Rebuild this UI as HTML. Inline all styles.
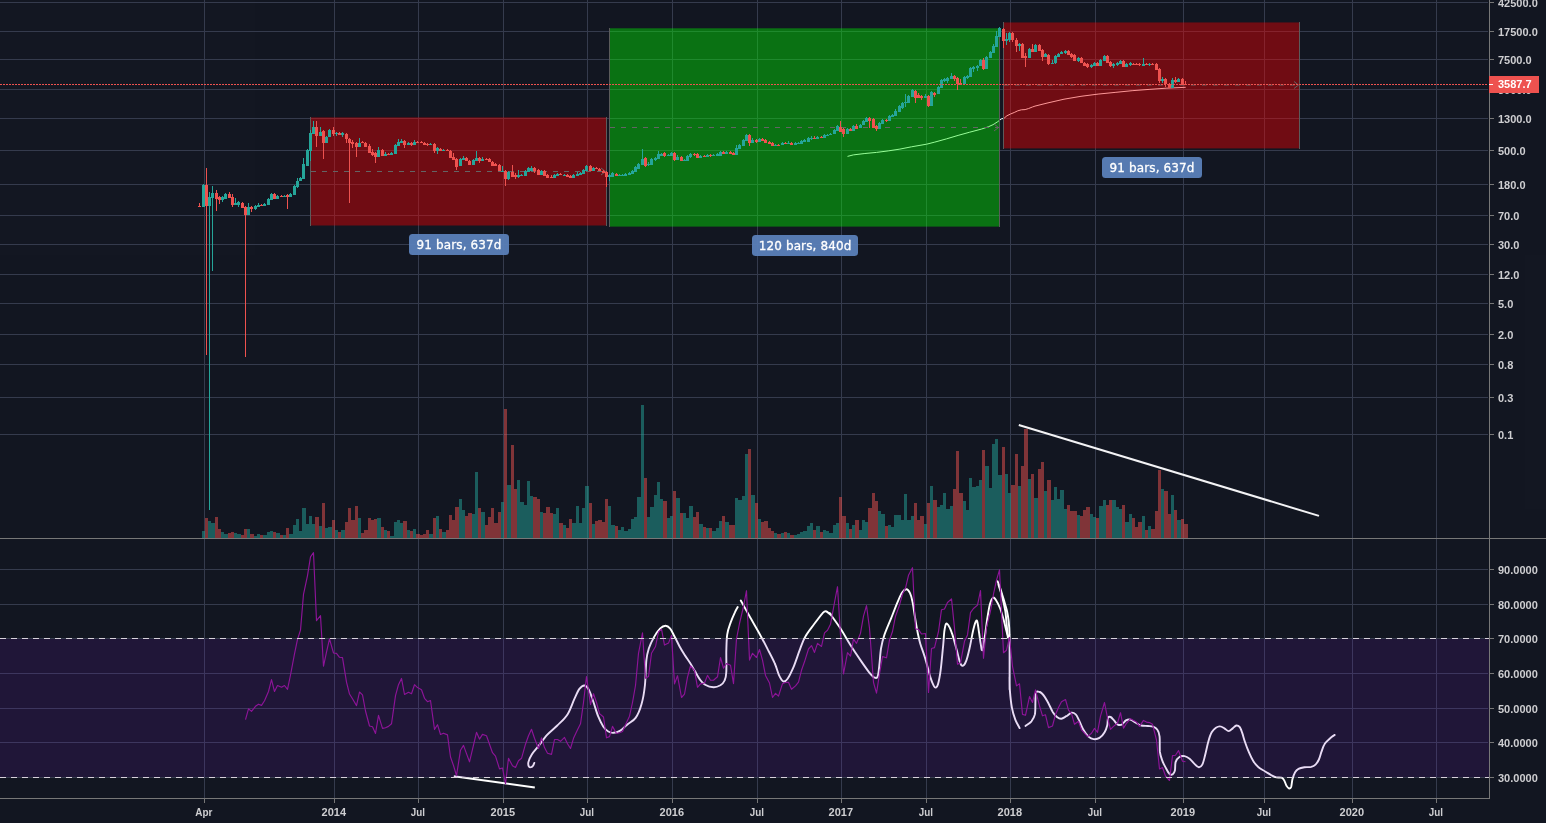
<!DOCTYPE html>
<html><head><meta charset="utf-8"><title>Chart</title>
<style>html,body{margin:0;padding:0;background:#131722;overflow:hidden}svg{display:block;will-change:transform;opacity:0.9999}</style>
</head><body>
<svg width="1546" height="823" viewBox="0 0 1546 823">
<rect x="0" y="0" width="1546" height="823" fill="#131722"/>
<g shape-rendering="crispEdges">
<rect x="204" y="0" width="1" height="538" fill="#363c4e"/>
<rect x="204" y="539" width="1" height="259" fill="#363c4e"/>
<rect x="334" y="0" width="1" height="538" fill="#363c4e"/>
<rect x="334" y="539" width="1" height="259" fill="#363c4e"/>
<rect x="418" y="0" width="1" height="538" fill="#363c4e"/>
<rect x="418" y="539" width="1" height="259" fill="#363c4e"/>
<rect x="503" y="0" width="1" height="538" fill="#363c4e"/>
<rect x="503" y="539" width="1" height="259" fill="#363c4e"/>
<rect x="587" y="0" width="1" height="538" fill="#363c4e"/>
<rect x="587" y="539" width="1" height="259" fill="#363c4e"/>
<rect x="672" y="0" width="1" height="538" fill="#363c4e"/>
<rect x="672" y="539" width="1" height="259" fill="#363c4e"/>
<rect x="757" y="0" width="1" height="538" fill="#363c4e"/>
<rect x="757" y="539" width="1" height="259" fill="#363c4e"/>
<rect x="841" y="0" width="1" height="538" fill="#363c4e"/>
<rect x="841" y="539" width="1" height="259" fill="#363c4e"/>
<rect x="926" y="0" width="1" height="538" fill="#363c4e"/>
<rect x="926" y="539" width="1" height="259" fill="#363c4e"/>
<rect x="1010" y="0" width="1" height="538" fill="#363c4e"/>
<rect x="1010" y="539" width="1" height="259" fill="#363c4e"/>
<rect x="1095" y="0" width="1" height="538" fill="#363c4e"/>
<rect x="1095" y="539" width="1" height="259" fill="#363c4e"/>
<rect x="1183" y="0" width="1" height="538" fill="#363c4e"/>
<rect x="1183" y="539" width="1" height="259" fill="#363c4e"/>
<rect x="1264" y="0" width="1" height="538" fill="#363c4e"/>
<rect x="1264" y="539" width="1" height="259" fill="#363c4e"/>
<rect x="1352" y="0" width="1" height="538" fill="#363c4e"/>
<rect x="1352" y="539" width="1" height="259" fill="#363c4e"/>
<rect x="1436" y="0" width="1" height="538" fill="#363c4e"/>
<rect x="1436" y="539" width="1" height="259" fill="#363c4e"/>
<rect x="0" y="2" width="1488" height="1" fill="#363c4e"/>
<rect x="0" y="31" width="1488" height="1" fill="#363c4e"/>
<rect x="0" y="59" width="1488" height="1" fill="#363c4e"/>
<rect x="0" y="89" width="1488" height="1" fill="#363c4e"/>
<rect x="0" y="118" width="1488" height="1" fill="#363c4e"/>
<rect x="0" y="150" width="1488" height="1" fill="#363c4e"/>
<rect x="0" y="184" width="1488" height="1" fill="#363c4e"/>
<rect x="0" y="215" width="1488" height="1" fill="#363c4e"/>
<rect x="0" y="244" width="1488" height="1" fill="#363c4e"/>
<rect x="0" y="274" width="1488" height="1" fill="#363c4e"/>
<rect x="0" y="303" width="1488" height="1" fill="#363c4e"/>
<rect x="0" y="334" width="1488" height="1" fill="#363c4e"/>
<rect x="0" y="364" width="1488" height="1" fill="#363c4e"/>
<rect x="0" y="397" width="1488" height="1" fill="#363c4e"/>
<rect x="0" y="434" width="1488" height="1" fill="#363c4e"/>
<rect x="0" y="569" width="1488" height="1" fill="#363c4e"/>
<rect x="0" y="604" width="1488" height="1" fill="#363c4e"/>
<rect x="0" y="638" width="1488" height="1" fill="#363c4e"/>
<rect x="0" y="673" width="1488" height="1" fill="#363c4e"/>
<rect x="0" y="708" width="1488" height="1" fill="#363c4e"/>
<rect x="0" y="742" width="1488" height="1" fill="#363c4e"/>
<rect x="0" y="777" width="1488" height="1" fill="#363c4e"/>
</g>
<line x1="453.8" y1="776.2" x2="534.8" y2="787.6" stroke="#ffffff" stroke-width="2"/>
<path d="M534.3,762.9 C534.0,763.5 533.5,765.7 532.6,766.3 C531.8,767.0 529.9,767.6 529.2,766.9 C528.5,766.1 528.0,764.2 528.4,762.1 C528.8,760.0 530.1,757.1 531.8,754.4 C533.5,751.7 536.0,749.2 538.6,745.9 C541.1,742.7 544.0,738.3 547.1,734.9 C550.2,731.5 553.9,728.9 557.3,725.5 C560.7,722.1 564.7,718.8 567.5,714.4 C570.3,710.1 572.3,703.4 574.3,699.1 C576.3,694.9 577.7,691.2 579.4,688.9 C581.1,686.7 583.0,685.4 584.5,685.5 C586.1,685.7 587.4,687.2 588.8,689.8 C590.2,692.3 591.5,696.4 593.0,700.8 C594.6,705.2 596.4,711.9 598.1,716.2 C599.8,720.4 601.5,723.8 603.2,726.4 C604.9,728.9 606.6,730.4 608.3,731.5 C610.1,732.5 611.5,733.0 613.5,732.8 C615.4,732.7 618.0,732.0 620.3,730.6 C622.5,729.3 624.5,726.8 627.1,724.7 C629.6,722.5 633.2,721.3 635.6,717.9 C638.0,714.4 640.0,709.6 641.5,704.2 C643.1,698.9 644.1,692.9 644.9,685.5 C645.7,678.2 645.7,666.3 646.4,660.1 C647.0,653.9 647.7,652.0 648.9,648.2 C650.2,644.3 652.2,640.4 654.0,637.1 C655.9,633.8 658.1,630.5 660.0,628.6 C661.9,626.7 663.9,625.7 665.6,625.7 C667.3,625.7 668.7,626.8 670.2,628.6 C671.7,630.4 672.9,633.3 674.4,636.3 C676.0,639.2 677.9,643.3 679.6,646.5 C681.3,649.6 683.0,652.3 684.7,655.0 C686.4,657.7 688.1,659.9 689.8,662.6 C691.5,665.3 693.2,668.3 694.9,671.1 C696.6,674.0 698.3,677.4 700.0,679.6 C701.7,681.9 702.8,683.5 705.1,684.7 C707.3,686.0 711.0,687.2 713.6,687.3 C716.1,687.4 718.5,686.4 720.4,685.3 C722.2,684.1 723.7,682.7 724.6,680.5 C725.6,678.3 726.1,676.8 726.3,672.0 C726.6,667.2 726.2,657.8 726.3,651.6 C726.5,645.3 726.5,639.4 727.2,634.6 C727.9,629.7 729.3,626.3 730.6,622.6 C731.9,619.0 733.7,615.0 734.9,612.4 C736.0,609.8 737.3,607.9 737.7,607.0" fill="none" stroke="#ffffff" stroke-width="1.9" stroke-linecap="round" stroke-linejoin="round"/>
<path d="M740.8,600.5 C742.2,603.1 746.2,610.3 749.3,615.8 C752.4,621.4 756.4,628.0 759.5,633.7 C762.6,639.4 765.5,644.9 768.0,649.9 C770.6,654.8 773.0,659.2 774.8,663.5 C776.7,667.7 777.7,672.4 779.1,675.4 C780.5,678.4 781.9,680.8 783.3,681.3 C784.8,681.9 785.9,681.2 787.6,678.8 C789.3,676.4 791.4,672.0 793.6,666.9 C795.7,661.8 798.4,653.3 800.4,648.2 C802.3,643.1 803.2,640.2 805.5,636.3 C807.7,632.3 811.1,628.2 814.0,624.3 C816.8,620.5 820.5,615.5 822.5,613.3 C824.5,611.1 824.5,611.0 825.9,611.2 C827.3,611.5 830.3,614.6 831.0,615.0 C831.7,615.4 828.5,611.4 830.0,613.6 C831.5,615.8 836.8,622.8 840.2,628.1 C843.6,633.3 847.0,639.7 850.4,645.1 C853.8,650.5 857.5,655.9 860.6,660.4 C863.7,664.9 866.9,669.5 869.1,672.3 C871.4,675.1 872.8,676.7 874.2,677.4 C875.7,678.1 876.8,678.5 877.6,676.6 C878.5,674.6 878.8,670.2 879.3,665.5 C879.9,660.8 880.2,653.6 881.0,648.5 C881.9,643.4 882.7,640.0 884.4,634.9 C886.2,629.8 889.0,623.5 891.3,617.9 C893.5,612.2 896.2,605.1 898.1,600.8 C899.9,596.6 900.9,594.3 902.3,592.3 C903.7,590.4 905.3,589.1 906.6,589.3 C907.8,589.4 909.0,591.1 910.0,593.2 C911.0,595.3 911.7,597.6 912.5,601.7 C913.4,605.8 914.2,612.7 915.1,617.9 C915.9,623.0 916.8,628.1 917.6,632.3 C918.5,636.6 918.9,639.0 920.2,643.4 C921.5,647.8 923.6,653.0 925.3,658.7 C927.0,664.4 929.0,672.9 930.4,677.4 C931.8,681.9 932.9,684.2 933.8,685.9 C934.7,687.6 935.1,687.9 935.8,687.6 C936.5,687.3 937.3,687.0 938.0,684.2 C938.8,681.4 939.7,677.1 940.6,670.6 C941.5,664.1 942.5,651.6 943.2,645.1 C943.8,638.6 943.9,635.0 944.3,631.5 C944.8,627.9 945.3,624.7 946.0,623.8 C946.8,623.0 948.0,624.5 949.1,626.4 C950.2,628.2 951.2,630.9 952.5,634.9 C953.8,638.8 955.5,645.5 956.8,650.2 C958.0,654.9 959.2,660.3 960.2,662.9 C961.2,665.6 961.7,666.1 962.7,665.8 C963.7,665.6 965.0,664.1 966.1,661.2 C967.3,658.3 968.4,653.4 969.5,648.5 C970.7,643.5 971.9,635.9 972.9,631.5 C973.9,627.1 974.8,623.8 975.5,622.1 C976.2,620.4 976.6,619.7 977.2,621.3 C977.8,622.8 978.3,627.8 978.9,631.5 C979.5,635.2 980.0,640.3 980.6,643.4 C981.2,646.5 981.6,651.3 982.3,650.2 C983.0,649.0 984.0,642.0 984.8,636.6 C985.7,631.2 986.5,623.2 987.4,617.9 C988.2,612.5 989.0,607.6 989.9,604.2 C990.9,600.9 992.0,598.5 993.0,597.8 C994.0,597.1 994.7,598.2 995.9,600.0 C997.1,601.8 998.9,605.2 1000.2,608.5 C1001.4,611.8 1002.4,615.4 1003.6,619.6 C1004.7,623.7 1006.1,630.3 1007.0,633.2 C1007.8,636.0 1008.4,636.0 1008.7,636.6" fill="none" stroke="#ffffff" stroke-width="1.9" stroke-linecap="round" stroke-linejoin="round"/>
<path d="M997.6,581.3 C998.0,582.4 999.2,585.1 1000.2,588.1 C1001.1,591.1 1002.4,595.3 1003.6,599.1 C1004.7,603.0 1006.1,607.4 1007.0,611.0 C1007.8,614.7 1008.2,617.3 1008.7,621.3 C1009.1,625.2 1009.4,630.3 1009.5,634.9 C1009.7,639.4 1009.6,642.8 1009.6,648.5 C1009.6,654.2 1009.6,662.1 1009.6,668.9 C1009.6,675.7 1009.6,688.0 1009.6,689.3 C1009.6,690.7 1009.5,676.8 1009.5,677.0 C1009.6,677.2 1009.5,685.5 1009.9,690.6 C1010.3,695.7 1011.0,702.8 1011.9,707.6 C1012.8,712.5 1014.0,716.2 1015.3,719.6 C1016.6,723.0 1018.9,726.6 1019.6,728.1" fill="none" stroke="#ffffff" stroke-width="1.9" stroke-linecap="round" stroke-linejoin="round"/>
<path d="M998.5,584.7 C999.0,586.5 1000.7,591.3 1001.9,595.7 C1003.0,600.1 1004.4,605.7 1005.3,611.0 C1006.1,616.4 1006.5,623.7 1007.0,628.1 C1007.4,632.5 1007.7,635.9 1007.8,637.4" fill="none" stroke="#ffffff" stroke-width="1.9" stroke-linecap="round" stroke-linejoin="round"/>
<path d="M1025.5,726.0 C1026.5,725.2 1029.9,723.2 1031.5,721.3 C1033.0,719.3 1034.2,717.6 1034.9,714.4 C1035.5,711.3 1035.3,706.1 1035.4,702.5 C1035.5,699.0 1035.3,695.0 1035.7,693.2 C1036.2,691.3 1037.2,691.3 1038.3,691.5 C1039.4,691.6 1041.0,692.3 1042.5,694.0 C1044.1,695.7 1045.9,698.7 1047.6,701.7 C1049.3,704.7 1051.2,709.3 1052.7,711.9 C1054.3,714.4 1055.6,715.9 1057.0,717.0 C1058.4,718.1 1059.7,718.8 1061.3,718.7 C1062.8,718.6 1064.7,717.1 1066.4,716.2 C1068.1,715.2 1069.9,713.0 1071.5,712.7 C1073.0,712.5 1074.4,713.2 1075.7,714.4 C1077.0,715.7 1077.8,717.9 1079.1,720.4 C1080.4,723.0 1081.8,727.1 1083.4,729.8 C1084.9,732.5 1086.8,735.0 1088.5,736.6 C1090.2,738.1 1091.7,738.9 1093.6,739.1 C1095.4,739.3 1097.7,739.1 1099.5,737.9 C1101.4,736.8 1103.4,734.4 1104.6,732.3 C1105.9,730.2 1106.6,727.9 1107.2,725.5 C1107.8,723.1 1107.5,719.3 1108.0,717.9 C1108.6,716.4 1109.6,716.6 1110.6,717.0 C1111.6,717.4 1112.9,719.2 1114.0,720.4 C1115.1,721.6 1116.1,723.6 1117.4,724.3 C1118.7,725.0 1120.2,725.3 1121.7,724.7 C1123.1,724.0 1124.5,721.3 1125.9,720.4 C1127.3,719.6 1128.5,719.1 1130.2,719.6 C1131.9,720.0 1134.3,722.0 1136.1,723.0 C1138.0,723.9 1139.2,725.0 1141.2,725.5 C1143.2,726.0 1146.0,725.8 1148.0,726.0 C1150.0,726.2 1151.6,726.1 1153.1,726.7 C1154.7,727.3 1156.3,728.1 1157.4,729.8 C1158.5,731.4 1159.2,732.9 1159.6,736.6 C1160.0,740.3 1159.5,747.8 1159.9,751.9 C1160.4,756.0 1161.5,758.5 1162.5,761.2 C1163.5,763.9 1164.8,766.0 1165.9,768.0 C1167.0,770.1 1168.2,772.6 1169.3,773.7 C1170.4,774.7 1171.8,774.9 1172.7,774.3 C1173.6,773.8 1174.4,772.6 1174.9,770.6 C1175.4,768.6 1174.9,764.4 1175.6,762.1 C1176.3,759.8 1177.9,758.0 1179.4,757.0 C1180.8,756.0 1182.8,755.9 1184.5,756.1 C1186.2,756.4 1187.9,757.4 1189.6,758.7 C1191.3,760.0 1193.1,762.7 1194.7,764.1 C1196.2,765.6 1197.7,767.1 1198.9,767.2 C1200.2,767.3 1201.3,766.5 1202.3,764.6 C1203.3,762.8 1203.9,760.0 1204.9,756.1 C1205.9,752.3 1207.2,745.6 1208.3,741.7 C1209.4,737.7 1210.4,734.6 1211.7,732.3 C1213.0,730.0 1214.5,728.7 1215.9,727.7 C1217.4,726.7 1218.8,726.2 1220.2,726.4 C1221.6,726.5 1223.0,727.6 1224.4,728.4 C1225.9,729.2 1227.3,731.2 1228.7,731.1 C1230.1,731.1 1231.7,729.0 1233.0,728.1 C1234.2,727.1 1235.2,725.7 1236.4,725.5 C1237.5,725.4 1238.8,725.9 1239.8,727.2 C1240.8,728.5 1241.5,730.8 1242.3,733.2 C1243.2,735.6 1243.7,738.4 1244.9,741.7 C1246.0,744.9 1247.7,749.5 1249.1,752.7 C1250.5,756.0 1251.8,758.8 1253.4,761.2 C1254.9,763.7 1256.5,765.5 1258.5,767.2 C1260.5,768.9 1263.0,770.0 1265.3,771.5 C1267.6,772.9 1270.2,774.7 1272.1,775.7 C1273.9,776.7 1274.8,777.1 1276.3,777.4 C1277.9,777.7 1280.2,777.3 1281.5,777.7 C1282.7,778.2 1283.2,778.6 1284.0,780.0 C1284.9,781.3 1285.7,784.5 1286.6,785.9 C1287.4,787.3 1288.3,788.3 1289.1,788.5 C1289.9,788.6 1290.6,788.3 1291.2,786.8 C1291.7,785.2 1291.9,781.5 1292.5,779.1 C1293.2,776.7 1294.1,774.0 1295.1,772.3 C1296.1,770.6 1296.9,769.7 1298.5,768.9 C1300.0,768.0 1302.3,767.5 1304.4,767.2 C1306.5,766.9 1309.4,767.3 1311.2,766.9 C1313.1,766.4 1314.2,765.9 1315.5,764.6 C1316.8,763.4 1317.9,761.7 1318.9,759.5 C1319.9,757.4 1320.6,754.3 1321.4,751.9 C1322.3,749.5 1323.0,746.9 1324.0,745.1 C1325.0,743.2 1326.1,742.2 1327.4,740.8 C1328.7,739.5 1330.4,737.9 1331.6,736.9 C1332.9,735.9 1334.2,735.2 1334.7,734.9" fill="none" stroke="#ffffff" stroke-width="1.9" stroke-linecap="round" stroke-linejoin="round"/>
<rect x="0" y="639" width="1489" height="138" fill="#701ec2" fill-opacity="0.15" shape-rendering="crispEdges"/>
<polyline points="847.5,156.4 853.3,154.9 864.9,153.5 876.6,152.4 888.2,150.9 899.9,149.1 911.5,146.8 926.6,144.2 934.8,142.1 946.4,138.9 958.1,135.4 969.7,132.2 981.4,129.1 988.3,126.8 993.0,124.7 997.7,121.7 999.5,120.3 1001.4,118.9 1004.0,118.3 1006.9,115.8 1010.5,114.0 1014.2,112.5 1017.8,110.8 1021.4,109.8 1025.1,109.6 1028.7,108.5 1032.4,107.0 1035.0,106.1 1047.0,103.1 1064.0,99.2 1081.0,96.3 1098.1,94.1 1115.1,92.4 1132.1,90.7 1149.1,89.4 1166.1,88.2 1185.7,87.3" fill="none" stroke="#ffffff" stroke-width="1"/>
<rect x="311" y="117.4" width="295" height="108.1" fill="#ff0000" fill-opacity="0.4"/>
<rect x="610" y="28.3" width="389" height="198.3" fill="#00ff00" fill-opacity="0.4"/>
<rect x="1004" y="22.45" width="295" height="125.95" fill="#ff0000" fill-opacity="0.4"/>
<g shape-rendering="crispEdges">
<rect x="310" y="117" width="1" height="109" fill="#5c5c5c"/>
<rect x="606" y="117" width="1" height="109" fill="#5c5c5c"/>
<rect x="609" y="28" width="1" height="199" fill="#5c5c5c"/>
<rect x="999" y="28" width="1" height="199" fill="#5c5c5c"/>
<rect x="1003" y="22" width="1" height="127" fill="#5c5c5c"/>
<rect x="1299" y="22" width="1" height="127" fill="#5c5c5c"/>
</g>
<line x1="311" y1="171.5" x2="606" y2="171.5" stroke="#656565" stroke-width="1" stroke-dasharray="4.7,6.3" shape-rendering="crispEdges"/>
<path d="M601,168.0 L605.5,171.5 L601,175.0" fill="none" stroke="#656565" stroke-width="1"/>
<line x1="610" y1="127.5" x2="999" y2="127.5" stroke="#656565" stroke-width="1" stroke-dasharray="4.7,6.3" shape-rendering="crispEdges"/>
<path d="M994,124.0 L998.5,127.5 L994,131.0" fill="none" stroke="#656565" stroke-width="1"/>
<line x1="1004" y1="85.0" x2="1299" y2="85.0" stroke="#656565" stroke-width="1" stroke-dasharray="4.7,6.3"/>
<path d="M1294,81.5 L1298.5,85.0 L1294,88.5" fill="none" stroke="#656565" stroke-width="1"/>
<g shape-rendering="crispEdges">
<rect x="202" y="531" width="3" height="7" fill="#26a69a" fill-opacity="0.5"/>
<rect x="205" y="518" width="3" height="20" fill="#ef5350" fill-opacity="0.5"/>
<rect x="208" y="521" width="3" height="17" fill="#26a69a" fill-opacity="0.5"/>
<rect x="211" y="523" width="4" height="15" fill="#26a69a" fill-opacity="0.5"/>
<rect x="215" y="517" width="3" height="21" fill="#ef5350" fill-opacity="0.5"/>
<rect x="218" y="529" width="3" height="9" fill="#ef5350" fill-opacity="0.5"/>
<rect x="221" y="532" width="3" height="6" fill="#26a69a" fill-opacity="0.5"/>
<rect x="224" y="534" width="4" height="4" fill="#26a69a" fill-opacity="0.5"/>
<rect x="228" y="533" width="3" height="5" fill="#ef5350" fill-opacity="0.5"/>
<rect x="231" y="532" width="3" height="6" fill="#ef5350" fill-opacity="0.5"/>
<rect x="234" y="533" width="3" height="5" fill="#26a69a" fill-opacity="0.5"/>
<rect x="237" y="534" width="4" height="4" fill="#26a69a" fill-opacity="0.5"/>
<rect x="241" y="535" width="3" height="3" fill="#ef5350" fill-opacity="0.5"/>
<rect x="244" y="529" width="3" height="9" fill="#ef5350" fill-opacity="0.5"/>
<rect x="247" y="529" width="3" height="9" fill="#26a69a" fill-opacity="0.5"/>
<rect x="250" y="534" width="4" height="4" fill="#ef5350" fill-opacity="0.5"/>
<rect x="254" y="536" width="3" height="2" fill="#26a69a" fill-opacity="0.5"/>
<rect x="257" y="534" width="3" height="4" fill="#26a69a" fill-opacity="0.5"/>
<rect x="260" y="535" width="3" height="3" fill="#ef5350" fill-opacity="0.5"/>
<rect x="263" y="535" width="4" height="3" fill="#26a69a" fill-opacity="0.5"/>
<rect x="267" y="532" width="3" height="6" fill="#26a69a" fill-opacity="0.5"/>
<rect x="270" y="531" width="3" height="7" fill="#26a69a" fill-opacity="0.5"/>
<rect x="273" y="532" width="3" height="6" fill="#ef5350" fill-opacity="0.5"/>
<rect x="276" y="533" width="4" height="5" fill="#26a69a" fill-opacity="0.5"/>
<rect x="280" y="535" width="3" height="3" fill="#ef5350" fill-opacity="0.5"/>
<rect x="283" y="535" width="3" height="3" fill="#26a69a" fill-opacity="0.5"/>
<rect x="286" y="528" width="3" height="10" fill="#ef5350" fill-opacity="0.5"/>
<rect x="289" y="534" width="4" height="4" fill="#26a69a" fill-opacity="0.5"/>
<rect x="293" y="525" width="3" height="13" fill="#26a69a" fill-opacity="0.5"/>
<rect x="296" y="519" width="3" height="19" fill="#26a69a" fill-opacity="0.5"/>
<rect x="299" y="531" width="3" height="7" fill="#26a69a" fill-opacity="0.5"/>
<rect x="302" y="508" width="4" height="30" fill="#26a69a" fill-opacity="0.5"/>
<rect x="306" y="524" width="3" height="14" fill="#26a69a" fill-opacity="0.5"/>
<rect x="309" y="516" width="3" height="22" fill="#26a69a" fill-opacity="0.5"/>
<rect x="312" y="524" width="3" height="14" fill="#26a69a" fill-opacity="0.5"/>
<rect x="315" y="517" width="4" height="21" fill="#ef5350" fill-opacity="0.5"/>
<rect x="319" y="526" width="3" height="12" fill="#26a69a" fill-opacity="0.5"/>
<rect x="322" y="503" width="3" height="35" fill="#ef5350" fill-opacity="0.5"/>
<rect x="325" y="528" width="3" height="10" fill="#26a69a" fill-opacity="0.5"/>
<rect x="328" y="527" width="4" height="11" fill="#26a69a" fill-opacity="0.5"/>
<rect x="332" y="520" width="3" height="18" fill="#ef5350" fill-opacity="0.5"/>
<rect x="335" y="530" width="3" height="8" fill="#26a69a" fill-opacity="0.5"/>
<rect x="338" y="532" width="3" height="6" fill="#ef5350" fill-opacity="0.5"/>
<rect x="341" y="530" width="4" height="8" fill="#26a69a" fill-opacity="0.5"/>
<rect x="345" y="522" width="3" height="16" fill="#ef5350" fill-opacity="0.5"/>
<rect x="348" y="508" width="3" height="30" fill="#ef5350" fill-opacity="0.5"/>
<rect x="351" y="520" width="4" height="18" fill="#ef5350" fill-opacity="0.5"/>
<rect x="355" y="506" width="3" height="32" fill="#ef5350" fill-opacity="0.5"/>
<rect x="358" y="518" width="3" height="20" fill="#26a69a" fill-opacity="0.5"/>
<rect x="361" y="533" width="3" height="5" fill="#ef5350" fill-opacity="0.5"/>
<rect x="364" y="530" width="4" height="8" fill="#ef5350" fill-opacity="0.5"/>
<rect x="368" y="518" width="3" height="20" fill="#ef5350" fill-opacity="0.5"/>
<rect x="371" y="520" width="3" height="18" fill="#ef5350" fill-opacity="0.5"/>
<rect x="374" y="519" width="3" height="19" fill="#ef5350" fill-opacity="0.5"/>
<rect x="377" y="518" width="4" height="20" fill="#26a69a" fill-opacity="0.5"/>
<rect x="381" y="527" width="3" height="11" fill="#ef5350" fill-opacity="0.5"/>
<rect x="384" y="530" width="3" height="8" fill="#26a69a" fill-opacity="0.5"/>
<rect x="387" y="531" width="3" height="7" fill="#ef5350" fill-opacity="0.5"/>
<rect x="390" y="536" width="4" height="2" fill="#26a69a" fill-opacity="0.5"/>
<rect x="394" y="522" width="3" height="16" fill="#26a69a" fill-opacity="0.5"/>
<rect x="397" y="520" width="3" height="18" fill="#26a69a" fill-opacity="0.5"/>
<rect x="400" y="523" width="3" height="15" fill="#26a69a" fill-opacity="0.5"/>
<rect x="403" y="521" width="4" height="17" fill="#ef5350" fill-opacity="0.5"/>
<rect x="407" y="530" width="3" height="8" fill="#26a69a" fill-opacity="0.5"/>
<rect x="410" y="531" width="3" height="7" fill="#ef5350" fill-opacity="0.5"/>
<rect x="413" y="529" width="3" height="9" fill="#26a69a" fill-opacity="0.5"/>
<rect x="416" y="534" width="4" height="4" fill="#ef5350" fill-opacity="0.5"/>
<rect x="420" y="535" width="3" height="3" fill="#ef5350" fill-opacity="0.5"/>
<rect x="423" y="534" width="3" height="4" fill="#ef5350" fill-opacity="0.5"/>
<rect x="426" y="530" width="3" height="8" fill="#ef5350" fill-opacity="0.5"/>
<rect x="429" y="534" width="4" height="4" fill="#26a69a" fill-opacity="0.5"/>
<rect x="433" y="518" width="3" height="20" fill="#ef5350" fill-opacity="0.5"/>
<rect x="436" y="516" width="3" height="22" fill="#26a69a" fill-opacity="0.5"/>
<rect x="439" y="529" width="3" height="9" fill="#ef5350" fill-opacity="0.5"/>
<rect x="442" y="532" width="4" height="6" fill="#26a69a" fill-opacity="0.5"/>
<rect x="446" y="530" width="3" height="8" fill="#ef5350" fill-opacity="0.5"/>
<rect x="449" y="515" width="3" height="23" fill="#ef5350" fill-opacity="0.5"/>
<rect x="452" y="520" width="3" height="18" fill="#ef5350" fill-opacity="0.5"/>
<rect x="455" y="507" width="4" height="31" fill="#ef5350" fill-opacity="0.5"/>
<rect x="459" y="499" width="3" height="39" fill="#26a69a" fill-opacity="0.5"/>
<rect x="462" y="510" width="3" height="28" fill="#26a69a" fill-opacity="0.5"/>
<rect x="465" y="516" width="3" height="22" fill="#ef5350" fill-opacity="0.5"/>
<rect x="468" y="513" width="4" height="25" fill="#ef5350" fill-opacity="0.5"/>
<rect x="472" y="514" width="3" height="24" fill="#26a69a" fill-opacity="0.5"/>
<rect x="475" y="472" width="3" height="66" fill="#26a69a" fill-opacity="0.5"/>
<rect x="478" y="508" width="3" height="30" fill="#ef5350" fill-opacity="0.5"/>
<rect x="481" y="512" width="4" height="26" fill="#26a69a" fill-opacity="0.5"/>
<rect x="485" y="525" width="3" height="13" fill="#ef5350" fill-opacity="0.5"/>
<rect x="488" y="517" width="3" height="21" fill="#ef5350" fill-opacity="0.5"/>
<rect x="491" y="508" width="3" height="30" fill="#ef5350" fill-opacity="0.5"/>
<rect x="494" y="523" width="4" height="15" fill="#ef5350" fill-opacity="0.5"/>
<rect x="498" y="512" width="3" height="26" fill="#ef5350" fill-opacity="0.5"/>
<rect x="501" y="502" width="3" height="36" fill="#26a69a" fill-opacity="0.5"/>
<rect x="504" y="409" width="3" height="129" fill="#ef5350" fill-opacity="0.5"/>
<rect x="507" y="485" width="4" height="53" fill="#26a69a" fill-opacity="0.5"/>
<rect x="511" y="445" width="3" height="93" fill="#ef5350" fill-opacity="0.5"/>
<rect x="514" y="489" width="3" height="49" fill="#ef5350" fill-opacity="0.5"/>
<rect x="517" y="480" width="3" height="58" fill="#26a69a" fill-opacity="0.5"/>
<rect x="520" y="502" width="4" height="36" fill="#26a69a" fill-opacity="0.5"/>
<rect x="524" y="505" width="3" height="33" fill="#26a69a" fill-opacity="0.5"/>
<rect x="527" y="481" width="3" height="57" fill="#26a69a" fill-opacity="0.5"/>
<rect x="530" y="496" width="3" height="42" fill="#26a69a" fill-opacity="0.5"/>
<rect x="533" y="497" width="4" height="41" fill="#ef5350" fill-opacity="0.5"/>
<rect x="537" y="499" width="3" height="39" fill="#ef5350" fill-opacity="0.5"/>
<rect x="540" y="512" width="3" height="26" fill="#26a69a" fill-opacity="0.5"/>
<rect x="543" y="513" width="3" height="25" fill="#ef5350" fill-opacity="0.5"/>
<rect x="546" y="507" width="4" height="31" fill="#ef5350" fill-opacity="0.5"/>
<rect x="550" y="513" width="3" height="25" fill="#ef5350" fill-opacity="0.5"/>
<rect x="553" y="514" width="3" height="24" fill="#26a69a" fill-opacity="0.5"/>
<rect x="556" y="508" width="3" height="30" fill="#26a69a" fill-opacity="0.5"/>
<rect x="559" y="523" width="4" height="15" fill="#ef5350" fill-opacity="0.5"/>
<rect x="563" y="525" width="3" height="13" fill="#26a69a" fill-opacity="0.5"/>
<rect x="566" y="528" width="3" height="10" fill="#ef5350" fill-opacity="0.5"/>
<rect x="569" y="519" width="3" height="19" fill="#ef5350" fill-opacity="0.5"/>
<rect x="572" y="523" width="4" height="15" fill="#26a69a" fill-opacity="0.5"/>
<rect x="576" y="506" width="3" height="32" fill="#26a69a" fill-opacity="0.5"/>
<rect x="579" y="523" width="3" height="15" fill="#26a69a" fill-opacity="0.5"/>
<rect x="582" y="508" width="3" height="30" fill="#26a69a" fill-opacity="0.5"/>
<rect x="585" y="486" width="4" height="52" fill="#26a69a" fill-opacity="0.5"/>
<rect x="589" y="503" width="3" height="35" fill="#ef5350" fill-opacity="0.5"/>
<rect x="592" y="524" width="3" height="14" fill="#26a69a" fill-opacity="0.5"/>
<rect x="595" y="521" width="3" height="17" fill="#ef5350" fill-opacity="0.5"/>
<rect x="598" y="520" width="4" height="18" fill="#ef5350" fill-opacity="0.5"/>
<rect x="602" y="522" width="3" height="16" fill="#ef5350" fill-opacity="0.5"/>
<rect x="605" y="499" width="3" height="39" fill="#ef5350" fill-opacity="0.5"/>
<rect x="608" y="506" width="3" height="32" fill="#26a69a" fill-opacity="0.5"/>
<rect x="611" y="525" width="4" height="13" fill="#26a69a" fill-opacity="0.5"/>
<rect x="615" y="526" width="3" height="12" fill="#ef5350" fill-opacity="0.5"/>
<rect x="618" y="530" width="3" height="8" fill="#26a69a" fill-opacity="0.5"/>
<rect x="621" y="527" width="3" height="11" fill="#26a69a" fill-opacity="0.5"/>
<rect x="624" y="531" width="4" height="7" fill="#26a69a" fill-opacity="0.5"/>
<rect x="628" y="529" width="3" height="9" fill="#26a69a" fill-opacity="0.5"/>
<rect x="631" y="519" width="3" height="19" fill="#26a69a" fill-opacity="0.5"/>
<rect x="634" y="517" width="3" height="21" fill="#26a69a" fill-opacity="0.5"/>
<rect x="637" y="497" width="4" height="41" fill="#26a69a" fill-opacity="0.5"/>
<rect x="641" y="405" width="3" height="133" fill="#26a69a" fill-opacity="0.5"/>
<rect x="644" y="478" width="3" height="60" fill="#ef5350" fill-opacity="0.5"/>
<rect x="647" y="517" width="3" height="21" fill="#26a69a" fill-opacity="0.5"/>
<rect x="650" y="507" width="4" height="31" fill="#26a69a" fill-opacity="0.5"/>
<rect x="654" y="495" width="3" height="43" fill="#26a69a" fill-opacity="0.5"/>
<rect x="657" y="482" width="3" height="56" fill="#26a69a" fill-opacity="0.5"/>
<rect x="660" y="499" width="3" height="39" fill="#26a69a" fill-opacity="0.5"/>
<rect x="663" y="501" width="4" height="37" fill="#ef5350" fill-opacity="0.5"/>
<rect x="667" y="518" width="3" height="20" fill="#26a69a" fill-opacity="0.5"/>
<rect x="670" y="516" width="3" height="22" fill="#26a69a" fill-opacity="0.5"/>
<rect x="673" y="491" width="3" height="47" fill="#ef5350" fill-opacity="0.5"/>
<rect x="676" y="498" width="4" height="40" fill="#26a69a" fill-opacity="0.5"/>
<rect x="680" y="513" width="3" height="25" fill="#ef5350" fill-opacity="0.5"/>
<rect x="683" y="513" width="3" height="25" fill="#26a69a" fill-opacity="0.5"/>
<rect x="686" y="518" width="3" height="20" fill="#26a69a" fill-opacity="0.5"/>
<rect x="689" y="506" width="4" height="32" fill="#26a69a" fill-opacity="0.5"/>
<rect x="693" y="517" width="3" height="21" fill="#ef5350" fill-opacity="0.5"/>
<rect x="696" y="512" width="3" height="26" fill="#ef5350" fill-opacity="0.5"/>
<rect x="699" y="524" width="4" height="14" fill="#26a69a" fill-opacity="0.5"/>
<rect x="703" y="527" width="3" height="11" fill="#ef5350" fill-opacity="0.5"/>
<rect x="706" y="528" width="3" height="10" fill="#26a69a" fill-opacity="0.5"/>
<rect x="709" y="528" width="3" height="10" fill="#ef5350" fill-opacity="0.5"/>
<rect x="712" y="531" width="4" height="7" fill="#26a69a" fill-opacity="0.5"/>
<rect x="716" y="528" width="3" height="10" fill="#26a69a" fill-opacity="0.5"/>
<rect x="719" y="521" width="3" height="17" fill="#26a69a" fill-opacity="0.5"/>
<rect x="722" y="516" width="3" height="22" fill="#ef5350" fill-opacity="0.5"/>
<rect x="725" y="522" width="4" height="16" fill="#26a69a" fill-opacity="0.5"/>
<rect x="729" y="525" width="3" height="13" fill="#ef5350" fill-opacity="0.5"/>
<rect x="732" y="525" width="3" height="13" fill="#ef5350" fill-opacity="0.5"/>
<rect x="735" y="498" width="3" height="40" fill="#26a69a" fill-opacity="0.5"/>
<rect x="738" y="500" width="4" height="38" fill="#26a69a" fill-opacity="0.5"/>
<rect x="742" y="496" width="3" height="42" fill="#26a69a" fill-opacity="0.5"/>
<rect x="745" y="454" width="3" height="84" fill="#26a69a" fill-opacity="0.5"/>
<rect x="748" y="449" width="3" height="89" fill="#ef5350" fill-opacity="0.5"/>
<rect x="751" y="495" width="4" height="43" fill="#26a69a" fill-opacity="0.5"/>
<rect x="755" y="503" width="3" height="35" fill="#ef5350" fill-opacity="0.5"/>
<rect x="758" y="519" width="3" height="19" fill="#26a69a" fill-opacity="0.5"/>
<rect x="761" y="522" width="3" height="16" fill="#ef5350" fill-opacity="0.5"/>
<rect x="764" y="521" width="4" height="17" fill="#ef5350" fill-opacity="0.5"/>
<rect x="768" y="528" width="3" height="10" fill="#ef5350" fill-opacity="0.5"/>
<rect x="771" y="531" width="3" height="7" fill="#ef5350" fill-opacity="0.5"/>
<rect x="774" y="533" width="3" height="5" fill="#26a69a" fill-opacity="0.5"/>
<rect x="777" y="534" width="4" height="4" fill="#ef5350" fill-opacity="0.5"/>
<rect x="781" y="533" width="3" height="5" fill="#26a69a" fill-opacity="0.5"/>
<rect x="784" y="532" width="3" height="6" fill="#ef5350" fill-opacity="0.5"/>
<rect x="787" y="533" width="3" height="5" fill="#26a69a" fill-opacity="0.5"/>
<rect x="790" y="535" width="4" height="3" fill="#ef5350" fill-opacity="0.5"/>
<rect x="794" y="535" width="3" height="3" fill="#26a69a" fill-opacity="0.5"/>
<rect x="797" y="534" width="3" height="4" fill="#26a69a" fill-opacity="0.5"/>
<rect x="800" y="532" width="3" height="6" fill="#26a69a" fill-opacity="0.5"/>
<rect x="803" y="531" width="4" height="7" fill="#26a69a" fill-opacity="0.5"/>
<rect x="807" y="526" width="3" height="12" fill="#26a69a" fill-opacity="0.5"/>
<rect x="810" y="523" width="3" height="15" fill="#26a69a" fill-opacity="0.5"/>
<rect x="813" y="530" width="3" height="8" fill="#ef5350" fill-opacity="0.5"/>
<rect x="816" y="526" width="4" height="12" fill="#26a69a" fill-opacity="0.5"/>
<rect x="820" y="532" width="3" height="6" fill="#ef5350" fill-opacity="0.5"/>
<rect x="823" y="530" width="3" height="8" fill="#26a69a" fill-opacity="0.5"/>
<rect x="826" y="531" width="3" height="7" fill="#26a69a" fill-opacity="0.5"/>
<rect x="829" y="533" width="4" height="5" fill="#26a69a" fill-opacity="0.5"/>
<rect x="833" y="525" width="3" height="13" fill="#26a69a" fill-opacity="0.5"/>
<rect x="836" y="523" width="3" height="15" fill="#26a69a" fill-opacity="0.5"/>
<rect x="839" y="497" width="3" height="41" fill="#ef5350" fill-opacity="0.5"/>
<rect x="842" y="516" width="4" height="22" fill="#ef5350" fill-opacity="0.5"/>
<rect x="846" y="523" width="3" height="15" fill="#26a69a" fill-opacity="0.5"/>
<rect x="849" y="529" width="3" height="9" fill="#ef5350" fill-opacity="0.5"/>
<rect x="852" y="525" width="3" height="13" fill="#26a69a" fill-opacity="0.5"/>
<rect x="855" y="520" width="4" height="18" fill="#ef5350" fill-opacity="0.5"/>
<rect x="859" y="530" width="3" height="8" fill="#26a69a" fill-opacity="0.5"/>
<rect x="862" y="520" width="3" height="18" fill="#26a69a" fill-opacity="0.5"/>
<rect x="865" y="522" width="3" height="16" fill="#26a69a" fill-opacity="0.5"/>
<rect x="868" y="508" width="4" height="30" fill="#ef5350" fill-opacity="0.5"/>
<rect x="872" y="493" width="3" height="45" fill="#ef5350" fill-opacity="0.5"/>
<rect x="875" y="501" width="3" height="37" fill="#ef5350" fill-opacity="0.5"/>
<rect x="878" y="511" width="3" height="27" fill="#26a69a" fill-opacity="0.5"/>
<rect x="881" y="514" width="4" height="24" fill="#26a69a" fill-opacity="0.5"/>
<rect x="885" y="526" width="3" height="12" fill="#ef5350" fill-opacity="0.5"/>
<rect x="888" y="525" width="3" height="13" fill="#26a69a" fill-opacity="0.5"/>
<rect x="891" y="527" width="3" height="11" fill="#26a69a" fill-opacity="0.5"/>
<rect x="894" y="515" width="4" height="23" fill="#26a69a" fill-opacity="0.5"/>
<rect x="898" y="515" width="3" height="23" fill="#26a69a" fill-opacity="0.5"/>
<rect x="901" y="520" width="3" height="18" fill="#26a69a" fill-opacity="0.5"/>
<rect x="904" y="494" width="3" height="44" fill="#26a69a" fill-opacity="0.5"/>
<rect x="907" y="520" width="4" height="18" fill="#26a69a" fill-opacity="0.5"/>
<rect x="911" y="516" width="3" height="22" fill="#26a69a" fill-opacity="0.5"/>
<rect x="914" y="503" width="3" height="35" fill="#ef5350" fill-opacity="0.5"/>
<rect x="917" y="520" width="3" height="18" fill="#ef5350" fill-opacity="0.5"/>
<rect x="920" y="516" width="4" height="22" fill="#ef5350" fill-opacity="0.5"/>
<rect x="924" y="524" width="3" height="14" fill="#26a69a" fill-opacity="0.5"/>
<rect x="927" y="503" width="3" height="35" fill="#ef5350" fill-opacity="0.5"/>
<rect x="930" y="486" width="3" height="52" fill="#26a69a" fill-opacity="0.5"/>
<rect x="933" y="500" width="4" height="38" fill="#ef5350" fill-opacity="0.5"/>
<rect x="937" y="507" width="3" height="31" fill="#26a69a" fill-opacity="0.5"/>
<rect x="940" y="505" width="3" height="33" fill="#26a69a" fill-opacity="0.5"/>
<rect x="943" y="493" width="3" height="45" fill="#26a69a" fill-opacity="0.5"/>
<rect x="946" y="509" width="4" height="29" fill="#26a69a" fill-opacity="0.5"/>
<rect x="950" y="506" width="3" height="32" fill="#26a69a" fill-opacity="0.5"/>
<rect x="953" y="489" width="3" height="49" fill="#ef5350" fill-opacity="0.5"/>
<rect x="956" y="451" width="3" height="87" fill="#ef5350" fill-opacity="0.5"/>
<rect x="959" y="493" width="4" height="45" fill="#ef5350" fill-opacity="0.5"/>
<rect x="963" y="501" width="3" height="37" fill="#26a69a" fill-opacity="0.5"/>
<rect x="966" y="510" width="3" height="28" fill="#26a69a" fill-opacity="0.5"/>
<rect x="969" y="478" width="3" height="60" fill="#26a69a" fill-opacity="0.5"/>
<rect x="972" y="487" width="4" height="51" fill="#26a69a" fill-opacity="0.5"/>
<rect x="976" y="486" width="3" height="52" fill="#26a69a" fill-opacity="0.5"/>
<rect x="979" y="480" width="3" height="58" fill="#26a69a" fill-opacity="0.5"/>
<rect x="982" y="450" width="3" height="88" fill="#ef5350" fill-opacity="0.5"/>
<rect x="985" y="466" width="4" height="72" fill="#26a69a" fill-opacity="0.5"/>
<rect x="989" y="488" width="3" height="50" fill="#26a69a" fill-opacity="0.5"/>
<rect x="992" y="444" width="3" height="94" fill="#26a69a" fill-opacity="0.5"/>
<rect x="995" y="439" width="3" height="99" fill="#26a69a" fill-opacity="0.5"/>
<rect x="998" y="475" width="4" height="63" fill="#26a69a" fill-opacity="0.5"/>
<rect x="1002" y="447" width="3" height="91" fill="#ef5350" fill-opacity="0.5"/>
<rect x="1005" y="474" width="3" height="64" fill="#26a69a" fill-opacity="0.5"/>
<rect x="1008" y="493" width="3" height="45" fill="#26a69a" fill-opacity="0.5"/>
<rect x="1011" y="485" width="4" height="53" fill="#ef5350" fill-opacity="0.5"/>
<rect x="1015" y="454" width="3" height="84" fill="#ef5350" fill-opacity="0.5"/>
<rect x="1018" y="486" width="3" height="52" fill="#26a69a" fill-opacity="0.5"/>
<rect x="1021" y="466" width="3" height="72" fill="#ef5350" fill-opacity="0.5"/>
<rect x="1024" y="429" width="4" height="109" fill="#ef5350" fill-opacity="0.5"/>
<rect x="1028" y="479" width="3" height="59" fill="#26a69a" fill-opacity="0.5"/>
<rect x="1031" y="474" width="3" height="64" fill="#ef5350" fill-opacity="0.5"/>
<rect x="1034" y="498" width="4" height="40" fill="#26a69a" fill-opacity="0.5"/>
<rect x="1038" y="469" width="3" height="69" fill="#ef5350" fill-opacity="0.5"/>
<rect x="1041" y="462" width="3" height="76" fill="#ef5350" fill-opacity="0.5"/>
<rect x="1044" y="491" width="3" height="47" fill="#26a69a" fill-opacity="0.5"/>
<rect x="1047" y="480" width="4" height="58" fill="#ef5350" fill-opacity="0.5"/>
<rect x="1051" y="500" width="3" height="38" fill="#26a69a" fill-opacity="0.5"/>
<rect x="1054" y="487" width="3" height="51" fill="#26a69a" fill-opacity="0.5"/>
<rect x="1057" y="499" width="3" height="39" fill="#26a69a" fill-opacity="0.5"/>
<rect x="1060" y="490" width="4" height="48" fill="#26a69a" fill-opacity="0.5"/>
<rect x="1064" y="509" width="3" height="29" fill="#26a69a" fill-opacity="0.5"/>
<rect x="1067" y="505" width="3" height="33" fill="#ef5350" fill-opacity="0.5"/>
<rect x="1070" y="511" width="3" height="27" fill="#ef5350" fill-opacity="0.5"/>
<rect x="1073" y="511" width="4" height="27" fill="#ef5350" fill-opacity="0.5"/>
<rect x="1077" y="515" width="3" height="23" fill="#26a69a" fill-opacity="0.5"/>
<rect x="1080" y="516" width="3" height="22" fill="#ef5350" fill-opacity="0.5"/>
<rect x="1083" y="510" width="3" height="28" fill="#ef5350" fill-opacity="0.5"/>
<rect x="1086" y="507" width="4" height="31" fill="#ef5350" fill-opacity="0.5"/>
<rect x="1090" y="514" width="3" height="24" fill="#26a69a" fill-opacity="0.5"/>
<rect x="1093" y="517" width="3" height="21" fill="#26a69a" fill-opacity="0.5"/>
<rect x="1096" y="518" width="3" height="20" fill="#ef5350" fill-opacity="0.5"/>
<rect x="1099" y="506" width="4" height="32" fill="#26a69a" fill-opacity="0.5"/>
<rect x="1103" y="500" width="3" height="38" fill="#26a69a" fill-opacity="0.5"/>
<rect x="1106" y="505" width="3" height="33" fill="#ef5350" fill-opacity="0.5"/>
<rect x="1109" y="500" width="3" height="38" fill="#ef5350" fill-opacity="0.5"/>
<rect x="1112" y="500" width="4" height="38" fill="#26a69a" fill-opacity="0.5"/>
<rect x="1116" y="507" width="3" height="31" fill="#26a69a" fill-opacity="0.5"/>
<rect x="1119" y="509" width="3" height="29" fill="#26a69a" fill-opacity="0.5"/>
<rect x="1122" y="505" width="3" height="33" fill="#ef5350" fill-opacity="0.5"/>
<rect x="1125" y="522" width="4" height="16" fill="#26a69a" fill-opacity="0.5"/>
<rect x="1129" y="514" width="3" height="24" fill="#26a69a" fill-opacity="0.5"/>
<rect x="1132" y="518" width="3" height="20" fill="#ef5350" fill-opacity="0.5"/>
<rect x="1135" y="527" width="3" height="11" fill="#ef5350" fill-opacity="0.5"/>
<rect x="1138" y="522" width="4" height="16" fill="#ef5350" fill-opacity="0.5"/>
<rect x="1142" y="516" width="3" height="22" fill="#26a69a" fill-opacity="0.5"/>
<rect x="1145" y="530" width="3" height="8" fill="#ef5350" fill-opacity="0.5"/>
<rect x="1148" y="526" width="3" height="12" fill="#26a69a" fill-opacity="0.5"/>
<rect x="1151" y="529" width="4" height="9" fill="#ef5350" fill-opacity="0.5"/>
<rect x="1155" y="511" width="3" height="27" fill="#ef5350" fill-opacity="0.5"/>
<rect x="1158" y="470" width="3" height="68" fill="#ef5350" fill-opacity="0.5"/>
<rect x="1161" y="489" width="3" height="49" fill="#26a69a" fill-opacity="0.5"/>
<rect x="1164" y="491" width="4" height="47" fill="#ef5350" fill-opacity="0.5"/>
<rect x="1168" y="514" width="3" height="24" fill="#ef5350" fill-opacity="0.5"/>
<rect x="1171" y="495" width="3" height="43" fill="#26a69a" fill-opacity="0.5"/>
<rect x="1174" y="510" width="3" height="28" fill="#ef5350" fill-opacity="0.5"/>
<rect x="1177" y="520" width="4" height="18" fill="#26a69a" fill-opacity="0.5"/>
<rect x="1181" y="519" width="3" height="19" fill="#ef5350" fill-opacity="0.5"/>
<rect x="1184" y="524" width="4" height="14" fill="#ef5350" fill-opacity="0.5"/>
</g>
<g shape-rendering="crispEdges">
<rect x="199" y="203" width="1" height="4" fill="#ef5350"/>
<rect x="198" y="206" width="3" height="1" fill="#ef5350"/>
<rect x="203" y="184" width="1" height="23" fill="#26a69a"/>
<rect x="202" y="185" width="3" height="22" fill="#26a69a"/>
<rect x="206" y="168" width="1" height="187" fill="#ef5350"/>
<rect x="205" y="185" width="3" height="21" fill="#ef5350"/>
<rect x="209" y="192" width="1" height="318" fill="#26a69a"/>
<rect x="208" y="197" width="3" height="9" fill="#26a69a"/>
<rect x="212" y="186" width="1" height="85" fill="#26a69a"/>
<rect x="211" y="193" width="3" height="5" fill="#26a69a"/>
<rect x="216" y="190" width="1" height="21" fill="#ef5350"/>
<rect x="215" y="193" width="3" height="6" fill="#ef5350"/>
<rect x="219" y="196" width="1" height="8" fill="#ef5350"/>
<rect x="218" y="197" width="3" height="3" fill="#ef5350"/>
<rect x="222" y="196" width="1" height="6" fill="#26a69a"/>
<rect x="221" y="197" width="3" height="3" fill="#26a69a"/>
<rect x="225" y="193" width="1" height="6" fill="#26a69a"/>
<rect x="224" y="194" width="3" height="5" fill="#26a69a"/>
<rect x="229" y="192" width="1" height="6" fill="#ef5350"/>
<rect x="228" y="194" width="3" height="4" fill="#ef5350"/>
<rect x="232" y="194" width="1" height="13" fill="#ef5350"/>
<rect x="231" y="197" width="3" height="8" fill="#ef5350"/>
<rect x="235" y="198" width="1" height="7" fill="#26a69a"/>
<rect x="234" y="203" width="3" height="2" fill="#26a69a"/>
<rect x="238" y="201" width="1" height="6" fill="#26a69a"/>
<rect x="237" y="202" width="3" height="3" fill="#26a69a"/>
<rect x="242" y="202" width="1" height="6" fill="#ef5350"/>
<rect x="241" y="203" width="3" height="5" fill="#ef5350"/>
<rect x="245" y="206" width="1" height="151" fill="#ef5350"/>
<rect x="244" y="207" width="3" height="8" fill="#ef5350"/>
<rect x="248" y="203" width="1" height="12" fill="#26a69a"/>
<rect x="247" y="207" width="3" height="8" fill="#26a69a"/>
<rect x="251" y="206" width="1" height="6" fill="#ef5350"/>
<rect x="250" y="207" width="3" height="2" fill="#ef5350"/>
<rect x="255" y="205" width="1" height="5" fill="#26a69a"/>
<rect x="254" y="206" width="3" height="3" fill="#26a69a"/>
<rect x="258" y="203" width="1" height="4" fill="#26a69a"/>
<rect x="257" y="205" width="3" height="2" fill="#26a69a"/>
<rect x="261" y="204" width="1" height="2" fill="#ef5350"/>
<rect x="260" y="205" width="3" height="1" fill="#ef5350"/>
<rect x="264" y="203" width="1" height="3" fill="#26a69a"/>
<rect x="263" y="204" width="3" height="2" fill="#26a69a"/>
<rect x="268" y="198" width="1" height="7" fill="#26a69a"/>
<rect x="267" y="199" width="3" height="6" fill="#26a69a"/>
<rect x="271" y="193" width="1" height="7" fill="#26a69a"/>
<rect x="270" y="194" width="3" height="6" fill="#26a69a"/>
<rect x="274" y="193" width="1" height="6" fill="#ef5350"/>
<rect x="273" y="194" width="3" height="5" fill="#ef5350"/>
<rect x="277" y="195" width="1" height="4" fill="#26a69a"/>
<rect x="276" y="196" width="3" height="3" fill="#26a69a"/>
<rect x="281" y="195" width="1" height="2" fill="#ef5350"/>
<rect x="280" y="196" width="3" height="1" fill="#ef5350"/>
<rect x="284" y="195" width="1" height="2" fill="#26a69a"/>
<rect x="283" y="196" width="3" height="1" fill="#26a69a"/>
<rect x="287" y="194" width="1" height="15" fill="#ef5350"/>
<rect x="286" y="195" width="3" height="2" fill="#ef5350"/>
<rect x="290" y="193" width="1" height="4" fill="#26a69a"/>
<rect x="289" y="194" width="3" height="3" fill="#26a69a"/>
<rect x="294" y="185" width="1" height="10" fill="#26a69a"/>
<rect x="293" y="186" width="3" height="9" fill="#26a69a"/>
<rect x="297" y="178" width="1" height="10" fill="#26a69a"/>
<rect x="296" y="181" width="3" height="6" fill="#26a69a"/>
<rect x="300" y="177" width="1" height="4" fill="#26a69a"/>
<rect x="299" y="178" width="3" height="3" fill="#26a69a"/>
<rect x="303" y="158" width="1" height="21" fill="#26a69a"/>
<rect x="302" y="164" width="3" height="15" fill="#26a69a"/>
<rect x="307" y="149" width="1" height="17" fill="#26a69a"/>
<rect x="306" y="150" width="3" height="16" fill="#26a69a"/>
<rect x="310" y="130" width="1" height="31" fill="#26a69a"/>
<rect x="309" y="133" width="3" height="18" fill="#26a69a"/>
<rect x="313" y="121" width="1" height="13" fill="#26a69a"/>
<rect x="312" y="127" width="3" height="7" fill="#26a69a"/>
<rect x="316" y="121" width="1" height="26" fill="#ef5350"/>
<rect x="315" y="127" width="3" height="9" fill="#ef5350"/>
<rect x="320" y="127" width="1" height="9" fill="#26a69a"/>
<rect x="319" y="132" width="3" height="4" fill="#26a69a"/>
<rect x="323" y="130" width="1" height="29" fill="#ef5350"/>
<rect x="322" y="131" width="3" height="12" fill="#ef5350"/>
<rect x="326" y="136" width="1" height="7" fill="#26a69a"/>
<rect x="325" y="137" width="3" height="6" fill="#26a69a"/>
<rect x="329" y="129" width="1" height="8" fill="#26a69a"/>
<rect x="328" y="130" width="3" height="7" fill="#26a69a"/>
<rect x="333" y="127" width="1" height="9" fill="#ef5350"/>
<rect x="332" y="130" width="3" height="4" fill="#ef5350"/>
<rect x="336" y="132" width="1" height="4" fill="#26a69a"/>
<rect x="335" y="133" width="3" height="1" fill="#26a69a"/>
<rect x="339" y="132" width="1" height="3" fill="#ef5350"/>
<rect x="338" y="133" width="3" height="2" fill="#ef5350"/>
<rect x="342" y="132" width="1" height="5" fill="#26a69a"/>
<rect x="341" y="133" width="3" height="2" fill="#26a69a"/>
<rect x="346" y="133" width="1" height="10" fill="#ef5350"/>
<rect x="345" y="134" width="3" height="5" fill="#ef5350"/>
<rect x="349" y="138" width="1" height="65" fill="#ef5350"/>
<rect x="348" y="139" width="3" height="4" fill="#ef5350"/>
<rect x="352" y="140" width="1" height="8" fill="#ef5350"/>
<rect x="351" y="142" width="3" height="2" fill="#ef5350"/>
<rect x="356" y="142" width="1" height="15" fill="#ef5350"/>
<rect x="355" y="143" width="3" height="4" fill="#ef5350"/>
<rect x="359" y="138" width="1" height="9" fill="#26a69a"/>
<rect x="358" y="143" width="3" height="4" fill="#26a69a"/>
<rect x="362" y="141" width="1" height="2" fill="#ef5350"/>
<rect x="361" y="142" width="3" height="1" fill="#ef5350"/>
<rect x="365" y="142" width="1" height="5" fill="#ef5350"/>
<rect x="364" y="143" width="3" height="4" fill="#ef5350"/>
<rect x="369" y="144" width="1" height="9" fill="#ef5350"/>
<rect x="368" y="146" width="3" height="7" fill="#ef5350"/>
<rect x="372" y="149" width="1" height="7" fill="#ef5350"/>
<rect x="371" y="152" width="3" height="3" fill="#ef5350"/>
<rect x="375" y="152" width="1" height="11" fill="#ef5350"/>
<rect x="374" y="153" width="3" height="4" fill="#ef5350"/>
<rect x="378" y="147" width="1" height="10" fill="#26a69a"/>
<rect x="377" y="150" width="3" height="7" fill="#26a69a"/>
<rect x="382" y="149" width="1" height="7" fill="#ef5350"/>
<rect x="381" y="150" width="3" height="6" fill="#ef5350"/>
<rect x="385" y="152" width="1" height="4" fill="#26a69a"/>
<rect x="384" y="154" width="3" height="2" fill="#26a69a"/>
<rect x="388" y="153" width="1" height="2" fill="#ef5350"/>
<rect x="387" y="154" width="3" height="1" fill="#ef5350"/>
<rect x="391" y="152" width="1" height="3" fill="#26a69a"/>
<rect x="390" y="153" width="3" height="2" fill="#26a69a"/>
<rect x="395" y="144" width="1" height="10" fill="#26a69a"/>
<rect x="394" y="145" width="3" height="9" fill="#26a69a"/>
<rect x="398" y="139" width="1" height="7" fill="#26a69a"/>
<rect x="397" y="142" width="3" height="4" fill="#26a69a"/>
<rect x="401" y="139" width="1" height="4" fill="#26a69a"/>
<rect x="400" y="141" width="3" height="2" fill="#26a69a"/>
<rect x="404" y="140" width="1" height="8" fill="#ef5350"/>
<rect x="403" y="141" width="3" height="4" fill="#ef5350"/>
<rect x="408" y="142" width="1" height="3" fill="#26a69a"/>
<rect x="407" y="143" width="3" height="2" fill="#26a69a"/>
<rect x="411" y="142" width="1" height="4" fill="#ef5350"/>
<rect x="410" y="143" width="3" height="2" fill="#ef5350"/>
<rect x="414" y="140" width="1" height="5" fill="#26a69a"/>
<rect x="413" y="142" width="3" height="3" fill="#26a69a"/>
<rect x="417" y="141" width="1" height="2" fill="#ef5350"/>
<rect x="416" y="142" width="3" height="1" fill="#ef5350"/>
<rect x="421" y="141" width="1" height="2" fill="#ef5350"/>
<rect x="420" y="142" width="3" height="1" fill="#ef5350"/>
<rect x="424" y="142" width="1" height="3" fill="#ef5350"/>
<rect x="423" y="143" width="3" height="2" fill="#ef5350"/>
<rect x="427" y="143" width="1" height="3" fill="#ef5350"/>
<rect x="426" y="144" width="3" height="1" fill="#ef5350"/>
<rect x="430" y="143" width="1" height="2" fill="#26a69a"/>
<rect x="429" y="144" width="3" height="1" fill="#26a69a"/>
<rect x="434" y="143" width="1" height="10" fill="#ef5350"/>
<rect x="433" y="144" width="3" height="7" fill="#ef5350"/>
<rect x="437" y="147" width="1" height="7" fill="#26a69a"/>
<rect x="436" y="148" width="3" height="3" fill="#26a69a"/>
<rect x="440" y="148" width="1" height="3" fill="#ef5350"/>
<rect x="439" y="149" width="3" height="2" fill="#ef5350"/>
<rect x="443" y="149" width="1" height="2" fill="#26a69a"/>
<rect x="442" y="150" width="3" height="1" fill="#26a69a"/>
<rect x="447" y="149" width="1" height="2" fill="#ef5350"/>
<rect x="446" y="150" width="3" height="1" fill="#ef5350"/>
<rect x="450" y="150" width="1" height="8" fill="#ef5350"/>
<rect x="449" y="151" width="3" height="7" fill="#ef5350"/>
<rect x="453" y="153" width="1" height="7" fill="#ef5350"/>
<rect x="452" y="157" width="3" height="3" fill="#ef5350"/>
<rect x="456" y="158" width="1" height="12" fill="#ef5350"/>
<rect x="455" y="159" width="3" height="8" fill="#ef5350"/>
<rect x="460" y="158" width="1" height="8" fill="#26a69a"/>
<rect x="459" y="159" width="3" height="7" fill="#26a69a"/>
<rect x="463" y="156" width="1" height="4" fill="#26a69a"/>
<rect x="462" y="158" width="3" height="2" fill="#26a69a"/>
<rect x="466" y="157" width="1" height="4" fill="#ef5350"/>
<rect x="465" y="158" width="3" height="3" fill="#ef5350"/>
<rect x="469" y="160" width="1" height="5" fill="#ef5350"/>
<rect x="468" y="161" width="3" height="4" fill="#ef5350"/>
<rect x="473" y="159" width="1" height="6" fill="#26a69a"/>
<rect x="472" y="160" width="3" height="5" fill="#26a69a"/>
<rect x="476" y="151" width="1" height="10" fill="#26a69a"/>
<rect x="475" y="158" width="3" height="3" fill="#26a69a"/>
<rect x="479" y="157" width="1" height="6" fill="#ef5350"/>
<rect x="478" y="158" width="3" height="3" fill="#ef5350"/>
<rect x="482" y="157" width="1" height="4" fill="#26a69a"/>
<rect x="481" y="159" width="3" height="2" fill="#26a69a"/>
<rect x="486" y="158" width="1" height="2" fill="#ef5350"/>
<rect x="485" y="159" width="3" height="1" fill="#ef5350"/>
<rect x="489" y="158" width="1" height="4" fill="#ef5350"/>
<rect x="488" y="159" width="3" height="3" fill="#ef5350"/>
<rect x="492" y="161" width="1" height="5" fill="#ef5350"/>
<rect x="491" y="162" width="3" height="4" fill="#ef5350"/>
<rect x="495" y="163" width="1" height="3" fill="#ef5350"/>
<rect x="494" y="164" width="3" height="2" fill="#ef5350"/>
<rect x="499" y="164" width="1" height="7" fill="#ef5350"/>
<rect x="498" y="165" width="3" height="6" fill="#ef5350"/>
<rect x="502" y="166" width="1" height="6" fill="#26a69a"/>
<rect x="501" y="171" width="3" height="1" fill="#26a69a"/>
<rect x="505" y="170" width="1" height="16" fill="#ef5350"/>
<rect x="504" y="171" width="3" height="8" fill="#ef5350"/>
<rect x="508" y="171" width="1" height="9" fill="#26a69a"/>
<rect x="507" y="172" width="3" height="7" fill="#26a69a"/>
<rect x="512" y="165" width="1" height="12" fill="#ef5350"/>
<rect x="511" y="172" width="3" height="5" fill="#ef5350"/>
<rect x="515" y="173" width="1" height="6" fill="#ef5350"/>
<rect x="514" y="175" width="3" height="2" fill="#ef5350"/>
<rect x="518" y="170" width="1" height="8" fill="#26a69a"/>
<rect x="517" y="175" width="3" height="2" fill="#26a69a"/>
<rect x="521" y="174" width="1" height="2" fill="#26a69a"/>
<rect x="520" y="175" width="3" height="1" fill="#26a69a"/>
<rect x="525" y="170" width="1" height="6" fill="#26a69a"/>
<rect x="524" y="171" width="3" height="5" fill="#26a69a"/>
<rect x="528" y="167" width="1" height="5" fill="#26a69a"/>
<rect x="527" y="168" width="3" height="4" fill="#26a69a"/>
<rect x="531" y="166" width="1" height="5" fill="#26a69a"/>
<rect x="530" y="168" width="3" height="3" fill="#26a69a"/>
<rect x="534" y="167" width="1" height="6" fill="#ef5350"/>
<rect x="533" y="168" width="3" height="3" fill="#ef5350"/>
<rect x="538" y="169" width="1" height="6" fill="#ef5350"/>
<rect x="537" y="170" width="3" height="5" fill="#ef5350"/>
<rect x="541" y="170" width="1" height="5" fill="#26a69a"/>
<rect x="540" y="171" width="3" height="4" fill="#26a69a"/>
<rect x="544" y="170" width="1" height="6" fill="#ef5350"/>
<rect x="543" y="171" width="3" height="5" fill="#ef5350"/>
<rect x="547" y="174" width="1" height="4" fill="#ef5350"/>
<rect x="546" y="175" width="3" height="3" fill="#ef5350"/>
<rect x="551" y="175" width="1" height="3" fill="#ef5350"/>
<rect x="550" y="177" width="3" height="1" fill="#ef5350"/>
<rect x="554" y="174" width="1" height="4" fill="#26a69a"/>
<rect x="553" y="175" width="3" height="3" fill="#26a69a"/>
<rect x="557" y="173" width="1" height="3" fill="#26a69a"/>
<rect x="556" y="174" width="3" height="2" fill="#26a69a"/>
<rect x="560" y="173" width="1" height="2" fill="#ef5350"/>
<rect x="559" y="174" width="3" height="1" fill="#ef5350"/>
<rect x="564" y="174" width="1" height="2" fill="#26a69a"/>
<rect x="563" y="175" width="3" height="1" fill="#26a69a"/>
<rect x="567" y="174" width="1" height="3" fill="#ef5350"/>
<rect x="566" y="175" width="3" height="2" fill="#ef5350"/>
<rect x="570" y="175" width="1" height="3" fill="#ef5350"/>
<rect x="569" y="176" width="3" height="2" fill="#ef5350"/>
<rect x="573" y="174" width="1" height="4" fill="#26a69a"/>
<rect x="572" y="175" width="3" height="3" fill="#26a69a"/>
<rect x="577" y="172" width="1" height="4" fill="#26a69a"/>
<rect x="576" y="174" width="3" height="2" fill="#26a69a"/>
<rect x="580" y="172" width="1" height="3" fill="#26a69a"/>
<rect x="579" y="173" width="3" height="2" fill="#26a69a"/>
<rect x="583" y="169" width="1" height="5" fill="#26a69a"/>
<rect x="582" y="170" width="3" height="4" fill="#26a69a"/>
<rect x="586" y="165" width="1" height="6" fill="#26a69a"/>
<rect x="585" y="166" width="3" height="5" fill="#26a69a"/>
<rect x="590" y="165" width="1" height="6" fill="#ef5350"/>
<rect x="589" y="166" width="3" height="5" fill="#ef5350"/>
<rect x="593" y="167" width="1" height="4" fill="#26a69a"/>
<rect x="592" y="168" width="3" height="3" fill="#26a69a"/>
<rect x="596" y="167" width="1" height="2" fill="#ef5350"/>
<rect x="595" y="168" width="3" height="1" fill="#ef5350"/>
<rect x="599" y="168" width="1" height="3" fill="#ef5350"/>
<rect x="598" y="169" width="3" height="2" fill="#ef5350"/>
<rect x="603" y="170" width="1" height="3" fill="#ef5350"/>
<rect x="602" y="171" width="3" height="2" fill="#ef5350"/>
<rect x="606" y="171" width="1" height="16" fill="#ef5350"/>
<rect x="605" y="172" width="3" height="5" fill="#ef5350"/>
<rect x="609" y="174" width="1" height="7" fill="#26a69a"/>
<rect x="608" y="175" width="3" height="2" fill="#26a69a"/>
<rect x="612" y="172" width="1" height="5" fill="#26a69a"/>
<rect x="611" y="173" width="3" height="4" fill="#26a69a"/>
<rect x="616" y="173" width="1" height="3" fill="#ef5350"/>
<rect x="615" y="174" width="3" height="2" fill="#ef5350"/>
<rect x="619" y="174" width="1" height="2" fill="#26a69a"/>
<rect x="618" y="175" width="3" height="1" fill="#26a69a"/>
<rect x="622" y="174" width="1" height="2" fill="#26a69a"/>
<rect x="621" y="175" width="3" height="1" fill="#26a69a"/>
<rect x="625" y="173" width="1" height="3" fill="#26a69a"/>
<rect x="624" y="174" width="3" height="2" fill="#26a69a"/>
<rect x="629" y="172" width="1" height="3" fill="#26a69a"/>
<rect x="628" y="173" width="3" height="2" fill="#26a69a"/>
<rect x="632" y="170" width="1" height="4" fill="#26a69a"/>
<rect x="631" y="171" width="3" height="3" fill="#26a69a"/>
<rect x="635" y="166" width="1" height="6" fill="#26a69a"/>
<rect x="634" y="167" width="3" height="5" fill="#26a69a"/>
<rect x="638" y="163" width="1" height="6" fill="#26a69a"/>
<rect x="637" y="164" width="3" height="5" fill="#26a69a"/>
<rect x="642" y="149" width="1" height="16" fill="#26a69a"/>
<rect x="641" y="159" width="3" height="6" fill="#26a69a"/>
<rect x="645" y="157" width="1" height="10" fill="#ef5350"/>
<rect x="644" y="158" width="3" height="8" fill="#ef5350"/>
<rect x="648" y="162" width="1" height="4" fill="#26a69a"/>
<rect x="647" y="164" width="3" height="1" fill="#26a69a"/>
<rect x="651" y="158" width="1" height="7" fill="#26a69a"/>
<rect x="650" y="159" width="3" height="6" fill="#26a69a"/>
<rect x="655" y="157" width="1" height="4" fill="#26a69a"/>
<rect x="654" y="158" width="3" height="2" fill="#26a69a"/>
<rect x="658" y="151" width="1" height="8" fill="#26a69a"/>
<rect x="657" y="154" width="3" height="5" fill="#26a69a"/>
<rect x="661" y="153" width="1" height="3" fill="#26a69a"/>
<rect x="660" y="154" width="3" height="2" fill="#26a69a"/>
<rect x="664" y="152" width="1" height="5" fill="#ef5350"/>
<rect x="663" y="153" width="3" height="3" fill="#ef5350"/>
<rect x="668" y="154" width="1" height="2" fill="#26a69a"/>
<rect x="667" y="155" width="3" height="1" fill="#26a69a"/>
<rect x="671" y="152" width="1" height="4" fill="#26a69a"/>
<rect x="670" y="153" width="3" height="3" fill="#26a69a"/>
<rect x="674" y="152" width="1" height="9" fill="#ef5350"/>
<rect x="673" y="153" width="3" height="7" fill="#ef5350"/>
<rect x="677" y="155" width="1" height="5" fill="#26a69a"/>
<rect x="676" y="157" width="3" height="3" fill="#26a69a"/>
<rect x="681" y="156" width="1" height="5" fill="#ef5350"/>
<rect x="680" y="157" width="3" height="4" fill="#ef5350"/>
<rect x="684" y="159" width="1" height="2" fill="#26a69a"/>
<rect x="683" y="160" width="3" height="1" fill="#26a69a"/>
<rect x="687" y="155" width="1" height="6" fill="#26a69a"/>
<rect x="686" y="156" width="3" height="5" fill="#26a69a"/>
<rect x="690" y="153" width="1" height="5" fill="#26a69a"/>
<rect x="689" y="154" width="3" height="3" fill="#26a69a"/>
<rect x="694" y="153" width="1" height="3" fill="#ef5350"/>
<rect x="693" y="154" width="3" height="1" fill="#ef5350"/>
<rect x="697" y="153" width="1" height="5" fill="#ef5350"/>
<rect x="696" y="154" width="3" height="4" fill="#ef5350"/>
<rect x="700" y="155" width="1" height="3" fill="#26a69a"/>
<rect x="699" y="156" width="3" height="2" fill="#26a69a"/>
<rect x="704" y="155" width="1" height="2" fill="#ef5350"/>
<rect x="703" y="156" width="3" height="1" fill="#ef5350"/>
<rect x="707" y="154" width="1" height="3" fill="#26a69a"/>
<rect x="706" y="155" width="3" height="2" fill="#26a69a"/>
<rect x="710" y="154" width="1" height="3" fill="#ef5350"/>
<rect x="709" y="155" width="3" height="1" fill="#ef5350"/>
<rect x="713" y="154" width="1" height="2" fill="#26a69a"/>
<rect x="712" y="155" width="3" height="1" fill="#26a69a"/>
<rect x="717" y="153" width="1" height="3" fill="#26a69a"/>
<rect x="716" y="154" width="3" height="2" fill="#26a69a"/>
<rect x="720" y="151" width="1" height="5" fill="#26a69a"/>
<rect x="719" y="152" width="3" height="4" fill="#26a69a"/>
<rect x="723" y="151" width="1" height="3" fill="#ef5350"/>
<rect x="722" y="152" width="3" height="2" fill="#ef5350"/>
<rect x="726" y="151" width="1" height="3" fill="#26a69a"/>
<rect x="725" y="152" width="3" height="2" fill="#26a69a"/>
<rect x="730" y="151" width="1" height="3" fill="#ef5350"/>
<rect x="729" y="152" width="3" height="2" fill="#ef5350"/>
<rect x="733" y="152" width="1" height="3" fill="#ef5350"/>
<rect x="732" y="153" width="3" height="2" fill="#ef5350"/>
<rect x="736" y="145" width="1" height="10" fill="#26a69a"/>
<rect x="735" y="148" width="3" height="7" fill="#26a69a"/>
<rect x="739" y="144" width="1" height="5" fill="#26a69a"/>
<rect x="738" y="145" width="3" height="4" fill="#26a69a"/>
<rect x="743" y="139" width="1" height="7" fill="#26a69a"/>
<rect x="742" y="140" width="3" height="6" fill="#26a69a"/>
<rect x="746" y="134" width="1" height="7" fill="#26a69a"/>
<rect x="745" y="135" width="3" height="6" fill="#26a69a"/>
<rect x="749" y="134" width="1" height="12" fill="#ef5350"/>
<rect x="748" y="135" width="3" height="8" fill="#ef5350"/>
<rect x="752" y="138" width="1" height="5" fill="#26a69a"/>
<rect x="751" y="140" width="3" height="3" fill="#26a69a"/>
<rect x="756" y="139" width="1" height="4" fill="#ef5350"/>
<rect x="755" y="140" width="3" height="2" fill="#ef5350"/>
<rect x="759" y="138" width="1" height="4" fill="#26a69a"/>
<rect x="758" y="139" width="3" height="3" fill="#26a69a"/>
<rect x="762" y="138" width="1" height="3" fill="#ef5350"/>
<rect x="761" y="139" width="3" height="2" fill="#ef5350"/>
<rect x="765" y="139" width="1" height="4" fill="#ef5350"/>
<rect x="764" y="140" width="3" height="3" fill="#ef5350"/>
<rect x="769" y="141" width="1" height="3" fill="#ef5350"/>
<rect x="768" y="142" width="3" height="2" fill="#ef5350"/>
<rect x="772" y="142" width="1" height="4" fill="#ef5350"/>
<rect x="771" y="143" width="3" height="3" fill="#ef5350"/>
<rect x="775" y="144" width="1" height="2" fill="#26a69a"/>
<rect x="774" y="145" width="3" height="1" fill="#26a69a"/>
<rect x="778" y="144" width="1" height="2" fill="#ef5350"/>
<rect x="777" y="145" width="3" height="1" fill="#ef5350"/>
<rect x="782" y="142" width="1" height="3" fill="#26a69a"/>
<rect x="781" y="143" width="3" height="2" fill="#26a69a"/>
<rect x="785" y="142" width="1" height="2" fill="#ef5350"/>
<rect x="784" y="143" width="3" height="1" fill="#ef5350"/>
<rect x="788" y="141" width="1" height="3" fill="#26a69a"/>
<rect x="787" y="143" width="3" height="1" fill="#26a69a"/>
<rect x="791" y="142" width="1" height="3" fill="#ef5350"/>
<rect x="790" y="143" width="3" height="2" fill="#ef5350"/>
<rect x="795" y="142" width="1" height="3" fill="#26a69a"/>
<rect x="794" y="143" width="3" height="2" fill="#26a69a"/>
<rect x="798" y="142" width="1" height="2" fill="#26a69a"/>
<rect x="797" y="143" width="3" height="1" fill="#26a69a"/>
<rect x="801" y="140" width="1" height="4" fill="#26a69a"/>
<rect x="800" y="141" width="3" height="3" fill="#26a69a"/>
<rect x="804" y="139" width="1" height="3" fill="#26a69a"/>
<rect x="803" y="140" width="3" height="2" fill="#26a69a"/>
<rect x="808" y="137" width="1" height="5" fill="#26a69a"/>
<rect x="807" y="138" width="3" height="4" fill="#26a69a"/>
<rect x="811" y="136" width="1" height="4" fill="#26a69a"/>
<rect x="810" y="138" width="3" height="1" fill="#26a69a"/>
<rect x="814" y="136" width="1" height="3" fill="#ef5350"/>
<rect x="813" y="138" width="3" height="1" fill="#ef5350"/>
<rect x="817" y="136" width="1" height="3" fill="#26a69a"/>
<rect x="816" y="137" width="3" height="2" fill="#26a69a"/>
<rect x="821" y="136" width="1" height="2" fill="#ef5350"/>
<rect x="820" y="137" width="3" height="1" fill="#ef5350"/>
<rect x="824" y="134" width="1" height="4" fill="#26a69a"/>
<rect x="823" y="135" width="3" height="3" fill="#26a69a"/>
<rect x="827" y="134" width="1" height="2" fill="#26a69a"/>
<rect x="826" y="135" width="3" height="1" fill="#26a69a"/>
<rect x="830" y="133" width="1" height="2" fill="#26a69a"/>
<rect x="829" y="134" width="3" height="1" fill="#26a69a"/>
<rect x="834" y="129" width="1" height="5" fill="#26a69a"/>
<rect x="833" y="130" width="3" height="4" fill="#26a69a"/>
<rect x="837" y="125" width="1" height="6" fill="#26a69a"/>
<rect x="836" y="126" width="3" height="5" fill="#26a69a"/>
<rect x="840" y="121" width="1" height="11" fill="#ef5350"/>
<rect x="839" y="127" width="3" height="5" fill="#ef5350"/>
<rect x="843" y="128" width="1" height="9" fill="#ef5350"/>
<rect x="842" y="129" width="3" height="5" fill="#ef5350"/>
<rect x="847" y="128" width="1" height="6" fill="#26a69a"/>
<rect x="846" y="129" width="3" height="5" fill="#26a69a"/>
<rect x="850" y="128" width="1" height="3" fill="#ef5350"/>
<rect x="849" y="129" width="3" height="2" fill="#ef5350"/>
<rect x="853" y="125" width="1" height="6" fill="#26a69a"/>
<rect x="852" y="126" width="3" height="5" fill="#26a69a"/>
<rect x="856" y="124" width="1" height="5" fill="#ef5350"/>
<rect x="855" y="126" width="3" height="3" fill="#ef5350"/>
<rect x="860" y="124" width="1" height="4" fill="#26a69a"/>
<rect x="859" y="125" width="3" height="3" fill="#26a69a"/>
<rect x="863" y="120" width="1" height="5" fill="#26a69a"/>
<rect x="862" y="121" width="3" height="4" fill="#26a69a"/>
<rect x="866" y="117" width="1" height="5" fill="#26a69a"/>
<rect x="865" y="118" width="3" height="4" fill="#26a69a"/>
<rect x="869" y="117" width="1" height="11" fill="#ef5350"/>
<rect x="868" y="118" width="3" height="3" fill="#ef5350"/>
<rect x="873" y="118" width="1" height="10" fill="#ef5350"/>
<rect x="872" y="119" width="3" height="9" fill="#ef5350"/>
<rect x="876" y="125" width="1" height="6" fill="#ef5350"/>
<rect x="875" y="126" width="3" height="3" fill="#ef5350"/>
<rect x="879" y="122" width="1" height="7" fill="#26a69a"/>
<rect x="878" y="123" width="3" height="6" fill="#26a69a"/>
<rect x="882" y="119" width="1" height="5" fill="#26a69a"/>
<rect x="881" y="120" width="3" height="4" fill="#26a69a"/>
<rect x="886" y="119" width="1" height="3" fill="#ef5350"/>
<rect x="885" y="120" width="3" height="1" fill="#ef5350"/>
<rect x="889" y="115" width="1" height="6" fill="#26a69a"/>
<rect x="888" y="116" width="3" height="5" fill="#26a69a"/>
<rect x="892" y="114" width="1" height="3" fill="#26a69a"/>
<rect x="891" y="115" width="3" height="2" fill="#26a69a"/>
<rect x="895" y="109" width="1" height="7" fill="#26a69a"/>
<rect x="894" y="111" width="3" height="5" fill="#26a69a"/>
<rect x="899" y="105" width="1" height="7" fill="#26a69a"/>
<rect x="898" y="106" width="3" height="6" fill="#26a69a"/>
<rect x="902" y="102" width="1" height="7" fill="#26a69a"/>
<rect x="901" y="103" width="3" height="5" fill="#26a69a"/>
<rect x="905" y="94" width="1" height="13" fill="#26a69a"/>
<rect x="904" y="102" width="3" height="1" fill="#26a69a"/>
<rect x="908" y="95" width="1" height="8" fill="#26a69a"/>
<rect x="907" y="96" width="3" height="7" fill="#26a69a"/>
<rect x="912" y="89" width="1" height="8" fill="#26a69a"/>
<rect x="911" y="90" width="3" height="7" fill="#26a69a"/>
<rect x="915" y="90" width="1" height="13" fill="#ef5350"/>
<rect x="914" y="91" width="3" height="7" fill="#ef5350"/>
<rect x="918" y="93" width="1" height="5" fill="#ef5350"/>
<rect x="917" y="95" width="3" height="3" fill="#ef5350"/>
<rect x="921" y="95" width="1" height="5" fill="#ef5350"/>
<rect x="920" y="96" width="3" height="2" fill="#ef5350"/>
<rect x="925" y="94" width="1" height="4" fill="#26a69a"/>
<rect x="924" y="96" width="3" height="2" fill="#26a69a"/>
<rect x="928" y="95" width="1" height="12" fill="#ef5350"/>
<rect x="927" y="96" width="3" height="10" fill="#ef5350"/>
<rect x="931" y="91" width="1" height="15" fill="#26a69a"/>
<rect x="930" y="92" width="3" height="14" fill="#26a69a"/>
<rect x="934" y="92" width="1" height="5" fill="#ef5350"/>
<rect x="933" y="93" width="3" height="2" fill="#ef5350"/>
<rect x="938" y="86" width="1" height="8" fill="#26a69a"/>
<rect x="937" y="87" width="3" height="7" fill="#26a69a"/>
<rect x="941" y="79" width="1" height="9" fill="#26a69a"/>
<rect x="940" y="80" width="3" height="8" fill="#26a69a"/>
<rect x="944" y="78" width="1" height="4" fill="#26a69a"/>
<rect x="943" y="79" width="3" height="2" fill="#26a69a"/>
<rect x="947" y="77" width="1" height="6" fill="#26a69a"/>
<rect x="946" y="78" width="3" height="3" fill="#26a69a"/>
<rect x="951" y="73" width="1" height="6" fill="#26a69a"/>
<rect x="950" y="76" width="3" height="3" fill="#26a69a"/>
<rect x="954" y="75" width="1" height="6" fill="#ef5350"/>
<rect x="953" y="76" width="3" height="3" fill="#ef5350"/>
<rect x="957" y="77" width="1" height="13" fill="#ef5350"/>
<rect x="956" y="78" width="3" height="6" fill="#ef5350"/>
<rect x="960" y="79" width="1" height="6" fill="#ef5350"/>
<rect x="959" y="83" width="3" height="2" fill="#ef5350"/>
<rect x="964" y="76" width="1" height="8" fill="#26a69a"/>
<rect x="963" y="77" width="3" height="7" fill="#26a69a"/>
<rect x="967" y="75" width="1" height="4" fill="#26a69a"/>
<rect x="966" y="76" width="3" height="2" fill="#26a69a"/>
<rect x="970" y="67" width="1" height="10" fill="#26a69a"/>
<rect x="969" y="68" width="3" height="9" fill="#26a69a"/>
<rect x="973" y="66" width="1" height="6" fill="#26a69a"/>
<rect x="972" y="67" width="3" height="2" fill="#26a69a"/>
<rect x="977" y="65" width="1" height="6" fill="#26a69a"/>
<rect x="976" y="66" width="3" height="2" fill="#26a69a"/>
<rect x="980" y="59" width="1" height="7" fill="#26a69a"/>
<rect x="979" y="60" width="3" height="6" fill="#26a69a"/>
<rect x="983" y="58" width="1" height="12" fill="#ef5350"/>
<rect x="982" y="60" width="3" height="9" fill="#ef5350"/>
<rect x="986" y="56" width="1" height="13" fill="#26a69a"/>
<rect x="985" y="57" width="3" height="12" fill="#26a69a"/>
<rect x="990" y="51" width="1" height="7" fill="#26a69a"/>
<rect x="989" y="52" width="3" height="6" fill="#26a69a"/>
<rect x="993" y="44" width="1" height="9" fill="#26a69a"/>
<rect x="992" y="46" width="3" height="7" fill="#26a69a"/>
<rect x="996" y="31" width="1" height="16" fill="#26a69a"/>
<rect x="995" y="36" width="3" height="11" fill="#26a69a"/>
<rect x="999" y="27" width="1" height="10" fill="#26a69a"/>
<rect x="998" y="28" width="3" height="9" fill="#26a69a"/>
<rect x="1003" y="28" width="1" height="20" fill="#ef5350"/>
<rect x="1002" y="29" width="3" height="12" fill="#ef5350"/>
<rect x="1006" y="33" width="1" height="12" fill="#26a69a"/>
<rect x="1005" y="39" width="3" height="2" fill="#26a69a"/>
<rect x="1009" y="32" width="1" height="10" fill="#26a69a"/>
<rect x="1008" y="33" width="3" height="7" fill="#26a69a"/>
<rect x="1012" y="32" width="1" height="10" fill="#ef5350"/>
<rect x="1011" y="33" width="3" height="7" fill="#ef5350"/>
<rect x="1016" y="38" width="1" height="14" fill="#ef5350"/>
<rect x="1015" y="40" width="3" height="6" fill="#ef5350"/>
<rect x="1019" y="43" width="1" height="8" fill="#26a69a"/>
<rect x="1018" y="44" width="3" height="2" fill="#26a69a"/>
<rect x="1022" y="43" width="1" height="15" fill="#ef5350"/>
<rect x="1021" y="44" width="3" height="14" fill="#ef5350"/>
<rect x="1025" y="53" width="1" height="14" fill="#ef5350"/>
<rect x="1024" y="56" width="3" height="2" fill="#ef5350"/>
<rect x="1029" y="48" width="1" height="10" fill="#26a69a"/>
<rect x="1028" y="49" width="3" height="9" fill="#26a69a"/>
<rect x="1032" y="44" width="1" height="8" fill="#ef5350"/>
<rect x="1031" y="49" width="3" height="3" fill="#ef5350"/>
<rect x="1035" y="44" width="1" height="8" fill="#26a69a"/>
<rect x="1034" y="45" width="3" height="7" fill="#26a69a"/>
<rect x="1039" y="44" width="1" height="7" fill="#ef5350"/>
<rect x="1038" y="45" width="3" height="6" fill="#ef5350"/>
<rect x="1042" y="49" width="1" height="12" fill="#ef5350"/>
<rect x="1041" y="50" width="3" height="7" fill="#ef5350"/>
<rect x="1045" y="53" width="1" height="4" fill="#26a69a"/>
<rect x="1044" y="54" width="3" height="3" fill="#26a69a"/>
<rect x="1048" y="54" width="1" height="11" fill="#ef5350"/>
<rect x="1047" y="55" width="3" height="9" fill="#ef5350"/>
<rect x="1052" y="60" width="1" height="4" fill="#26a69a"/>
<rect x="1051" y="63" width="3" height="1" fill="#26a69a"/>
<rect x="1055" y="55" width="1" height="9" fill="#26a69a"/>
<rect x="1054" y="56" width="3" height="7" fill="#26a69a"/>
<rect x="1058" y="53" width="1" height="4" fill="#26a69a"/>
<rect x="1057" y="54" width="3" height="3" fill="#26a69a"/>
<rect x="1061" y="51" width="1" height="3" fill="#26a69a"/>
<rect x="1060" y="52" width="3" height="2" fill="#26a69a"/>
<rect x="1065" y="50" width="1" height="4" fill="#26a69a"/>
<rect x="1064" y="51" width="3" height="2" fill="#26a69a"/>
<rect x="1068" y="50" width="1" height="5" fill="#ef5350"/>
<rect x="1067" y="51" width="3" height="4" fill="#ef5350"/>
<rect x="1071" y="53" width="1" height="5" fill="#ef5350"/>
<rect x="1070" y="54" width="3" height="3" fill="#ef5350"/>
<rect x="1074" y="54" width="1" height="7" fill="#ef5350"/>
<rect x="1073" y="55" width="3" height="6" fill="#ef5350"/>
<rect x="1078" y="57" width="1" height="5" fill="#26a69a"/>
<rect x="1077" y="58" width="3" height="3" fill="#26a69a"/>
<rect x="1081" y="57" width="1" height="6" fill="#ef5350"/>
<rect x="1080" y="58" width="3" height="5" fill="#ef5350"/>
<rect x="1084" y="62" width="1" height="4" fill="#ef5350"/>
<rect x="1083" y="63" width="3" height="3" fill="#ef5350"/>
<rect x="1087" y="63" width="1" height="5" fill="#ef5350"/>
<rect x="1086" y="64" width="3" height="3" fill="#ef5350"/>
<rect x="1091" y="64" width="1" height="4" fill="#26a69a"/>
<rect x="1090" y="65" width="3" height="2" fill="#26a69a"/>
<rect x="1094" y="62" width="1" height="4" fill="#26a69a"/>
<rect x="1093" y="63" width="3" height="3" fill="#26a69a"/>
<rect x="1097" y="62" width="1" height="4" fill="#ef5350"/>
<rect x="1096" y="63" width="3" height="3" fill="#ef5350"/>
<rect x="1100" y="59" width="1" height="7" fill="#26a69a"/>
<rect x="1099" y="60" width="3" height="6" fill="#26a69a"/>
<rect x="1104" y="55" width="1" height="6" fill="#26a69a"/>
<rect x="1103" y="56" width="3" height="5" fill="#26a69a"/>
<rect x="1107" y="55" width="1" height="8" fill="#ef5350"/>
<rect x="1106" y="56" width="3" height="7" fill="#ef5350"/>
<rect x="1110" y="61" width="1" height="6" fill="#ef5350"/>
<rect x="1109" y="62" width="3" height="4" fill="#ef5350"/>
<rect x="1113" y="63" width="1" height="5" fill="#26a69a"/>
<rect x="1112" y="64" width="3" height="2" fill="#26a69a"/>
<rect x="1117" y="62" width="1" height="4" fill="#26a69a"/>
<rect x="1116" y="63" width="3" height="2" fill="#26a69a"/>
<rect x="1120" y="60" width="1" height="4" fill="#26a69a"/>
<rect x="1119" y="61" width="3" height="3" fill="#26a69a"/>
<rect x="1123" y="60" width="1" height="7" fill="#ef5350"/>
<rect x="1122" y="61" width="3" height="6" fill="#ef5350"/>
<rect x="1126" y="63" width="1" height="4" fill="#26a69a"/>
<rect x="1125" y="64" width="3" height="3" fill="#26a69a"/>
<rect x="1130" y="62" width="1" height="4" fill="#26a69a"/>
<rect x="1129" y="63" width="3" height="2" fill="#26a69a"/>
<rect x="1133" y="63" width="1" height="2" fill="#ef5350"/>
<rect x="1132" y="64" width="3" height="1" fill="#ef5350"/>
<rect x="1136" y="63" width="1" height="2" fill="#ef5350"/>
<rect x="1135" y="64" width="3" height="1" fill="#ef5350"/>
<rect x="1139" y="63" width="1" height="3" fill="#ef5350"/>
<rect x="1138" y="64" width="3" height="1" fill="#ef5350"/>
<rect x="1143" y="58" width="1" height="8" fill="#26a69a"/>
<rect x="1142" y="64" width="3" height="2" fill="#26a69a"/>
<rect x="1146" y="63" width="1" height="2" fill="#ef5350"/>
<rect x="1145" y="64" width="3" height="1" fill="#ef5350"/>
<rect x="1149" y="63" width="1" height="3" fill="#26a69a"/>
<rect x="1148" y="64" width="3" height="1" fill="#26a69a"/>
<rect x="1152" y="63" width="1" height="2" fill="#ef5350"/>
<rect x="1151" y="64" width="3" height="1" fill="#ef5350"/>
<rect x="1156" y="63" width="1" height="7" fill="#ef5350"/>
<rect x="1155" y="64" width="3" height="6" fill="#ef5350"/>
<rect x="1159" y="68" width="1" height="15" fill="#ef5350"/>
<rect x="1158" y="69" width="3" height="12" fill="#ef5350"/>
<rect x="1162" y="77" width="1" height="6" fill="#26a69a"/>
<rect x="1161" y="79" width="3" height="2" fill="#26a69a"/>
<rect x="1165" y="78" width="1" height="9" fill="#ef5350"/>
<rect x="1164" y="79" width="3" height="5" fill="#ef5350"/>
<rect x="1169" y="83" width="1" height="5" fill="#ef5350"/>
<rect x="1168" y="84" width="3" height="4" fill="#ef5350"/>
<rect x="1172" y="78" width="1" height="10" fill="#26a69a"/>
<rect x="1171" y="80" width="3" height="8" fill="#26a69a"/>
<rect x="1175" y="77" width="1" height="6" fill="#ef5350"/>
<rect x="1174" y="80" width="3" height="2" fill="#ef5350"/>
<rect x="1178" y="78" width="1" height="4" fill="#26a69a"/>
<rect x="1177" y="79" width="3" height="3" fill="#26a69a"/>
<rect x="1182" y="78" width="1" height="7" fill="#ef5350"/>
<rect x="1181" y="79" width="3" height="6" fill="#ef5350"/>
<rect x="1185" y="81" width="1" height="4" fill="#ef5350"/>
<rect x="1184" y="84" width="3" height="1" fill="#ef5350"/>
</g>
<line x1="0" y1="84.5" x2="1487" y2="84.5" stroke="#ef5350" stroke-width="1" stroke-dasharray="2,1" shape-rendering="crispEdges"/>
<line x1="1018.8" y1="425.0" x2="1319" y2="515.9" stroke="#f4f4f6" stroke-width="2"/>
<polyline points="245.5,719.6 248.5,708.8 251.5,711.4 255.5,706.3 258.5,704.2 261.5,705.4 264.5,700.8 268.5,691.5 271.5,679.6 274.5,691.5 277.5,685.5 281.5,687.2 284.5,685.5 287.5,689.3 290.5,675.0 294.5,653.9 297.5,639.4 300.5,630.1 303.5,594.3 307.5,575.6 310.5,556.9 313.5,552.7 316.5,620.7 320.5,615.6 323.5,666.2 326.5,652.2 329.5,638.9 333.5,653.0 336.5,653.4 339.5,657.3 342.5,657.6 346.5,682.1 349.5,694.0 352.5,698.8 356.5,705.6 359.5,692.0 362.5,694.9 365.5,711.0 369.5,726.0 372.5,726.7 375.5,733.5 378.5,715.3 382.5,728.4 385.5,727.7 388.5,726.4 391.5,723.8 395.5,695.7 398.5,684.7 401.5,678.4 404.5,694.5 408.5,692.3 411.5,693.7 414.5,684.7 417.5,687.6 421.5,689.8 424.5,698.3 427.5,701.7 430.5,700.5 434.5,729.4 437.5,724.7 440.5,734.5 443.5,733.2 447.5,734.9 450.5,757.0 453.5,765.5 456.5,775.7 460.5,750.2 463.5,745.4 466.5,753.6 469.5,761.8 473.5,745.1 476.5,732.3 479.5,739.1 482.5,734.4 486.5,735.7 489.5,744.2 492.5,752.7 495.5,756.1 499.5,768.9 502.5,768.0 505.5,783.9 508.5,758.3 512.5,765.8 515.5,767.5 518.5,760.7 521.5,758.3 525.5,744.2 528.5,735.7 531.5,729.3 534.5,738.3 538.5,748.5 541.5,737.8 544.5,747.6 547.5,753.2 551.5,754.4 554.5,739.5 557.5,739.5 560.5,741.3 564.5,737.4 567.5,743.7 570.5,748.5 573.5,738.3 577.5,729.8 580.5,723.8 583.5,702.5 586.5,676.5 590.5,704.6 593.5,693.7 596.5,702.5 599.5,713.6 603.5,717.0 606.5,737.8 609.5,736.6 612.5,726.4 616.5,733.5 619.5,732.8 622.5,731.5 625.5,724.7 629.5,716.2 632.5,702.5 635.5,685.5 638.5,653.3 642.5,632.9 645.5,678.3 648.5,676.6 651.5,653.3 655.5,646.5 658.5,632.0 661.5,629.1 664.5,645.1 668.5,643.1 671.5,635.4 674.5,683.9 677.5,675.7 681.5,697.5 684.5,694.1 687.5,677.1 690.5,666.0 694.5,670.3 697.5,687.3 700.5,683.9 704.5,683.0 707.5,675.4 710.5,680.2 713.5,680.2 717.5,676.8 720.5,657.5 723.5,668.2 726.5,663.5 730.5,665.2 733.5,683.6 736.5,638.8 739.5,623.5 743.5,606.5 746.5,590.7 749.5,660.1 752.5,653.3 756.5,657.5 759.5,649.5 762.5,660.1 765.5,675.4 769.5,683.0 772.5,697.5 775.5,693.3 778.5,696.2 782.5,683.6 785.5,682.5 788.5,682.2 791.5,689.3 795.5,685.9 798.5,682.2 801.5,670.3 804.5,661.8 808.5,649.0 811.5,645.6 814.5,652.4 817.5,643.4 821.5,646.5 824.5,632.9 827.5,630.3 830.5,624.3 834.5,602.5 837.5,586.7 840.5,634.9 843.5,674.0 847.5,652.7 850.5,656.1 853.5,639.1 856.5,643.4 860.5,633.2 863.5,616.2 866.5,605.6 869.5,628.1 873.5,682.5 876.5,693.1 879.5,674.0 882.5,656.6 886.5,657.8 889.5,640.0 892.5,631.5 895.5,616.2 899.5,605.1 902.5,594.0 905.5,588.1 908.5,575.3 912.5,567.7 915.5,628.9 918.5,629.4 921.5,634.0 925.5,633.5 928.5,692.4 931.5,648.5 934.5,647.6 938.5,631.5 941.5,609.7 944.5,609.0 947.5,602.5 951.5,598.8 954.5,628.1 957.5,664.1 960.5,662.9 964.5,641.3 967.5,634.9 970.5,612.7 973.5,608.5 977.5,605.1 980.5,590.6 983.5,658.3 986.5,627.2 990.5,611.0 993.5,594.0 996.5,580.1 999.5,569.9 1003.5,652.7 1006.5,650.2 1009.5,637.4 1012.5,666.3 1016.5,685.9 1019.5,683.8 1022.5,714.4 1025.5,715.3 1029.5,696.6 1032.5,702.5 1035.5,689.8 1039.5,705.9 1042.5,715.8 1045.5,714.8 1048.5,727.6 1052.5,726.0 1055.5,714.4 1058.5,707.6 1061.5,701.7 1065.5,699.5 1068.5,710.2 1071.5,713.6 1074.5,724.3 1078.5,721.3 1081.5,729.8 1084.5,733.2 1087.5,736.6 1091.5,733.2 1094.5,728.4 1097.5,732.3 1100.5,716.2 1104.5,702.5 1107.5,717.9 1110.5,729.4 1113.5,726.4 1117.5,723.0 1120.5,712.7 1123.5,728.1 1126.5,723.3 1130.5,718.7 1133.5,720.4 1136.5,722.1 1139.5,726.4 1143.5,720.4 1146.5,722.1 1149.5,722.6 1152.5,724.3 1156.5,740.0 1159.5,768.9 1162.5,767.5 1165.5,776.0 1169.5,780.5 1172.5,755.6 1175.5,755.3 1178.5,750.5 1182.5,761.2 1185.5,761.8" fill="none" stroke="#8e1599" stroke-width="1.15" stroke-linejoin="round"/>
<line x1="0" y1="638.5" x2="1489" y2="638.5" stroke="#d9d3dc" stroke-width="1" stroke-dasharray="6,5" shape-rendering="crispEdges"/>
<line x1="0" y1="777.5" x2="1489" y2="777.5" stroke="#d9d3dc" stroke-width="1" stroke-dasharray="6,5" shape-rendering="crispEdges"/>
<g shape-rendering="crispEdges">
<rect x="1489" y="0" width="1" height="799" fill="#787878"/>
<rect x="0" y="538" width="1546" height="1" fill="#787878"/>
<rect x="0" y="798" width="1490" height="1" fill="#787878"/>
<rect x="1490" y="2" width="4" height="1" fill="#787878"/>
<rect x="1490" y="31" width="4" height="1" fill="#787878"/>
<rect x="1490" y="59" width="4" height="1" fill="#787878"/>
<rect x="1490" y="89" width="4" height="1" fill="#787878"/>
<rect x="1490" y="118" width="4" height="1" fill="#787878"/>
<rect x="1490" y="150" width="4" height="1" fill="#787878"/>
<rect x="1490" y="184" width="4" height="1" fill="#787878"/>
<rect x="1490" y="215" width="4" height="1" fill="#787878"/>
<rect x="1490" y="244" width="4" height="1" fill="#787878"/>
<rect x="1490" y="274" width="4" height="1" fill="#787878"/>
<rect x="1490" y="303" width="4" height="1" fill="#787878"/>
<rect x="1490" y="334" width="4" height="1" fill="#787878"/>
<rect x="1490" y="364" width="4" height="1" fill="#787878"/>
<rect x="1490" y="397" width="4" height="1" fill="#787878"/>
<rect x="1490" y="434" width="4" height="1" fill="#787878"/>
<rect x="1490" y="569" width="4" height="1" fill="#787878"/>
<rect x="1490" y="604" width="4" height="1" fill="#787878"/>
<rect x="1490" y="638" width="4" height="1" fill="#787878"/>
<rect x="1490" y="673" width="4" height="1" fill="#787878"/>
<rect x="1490" y="708" width="4" height="1" fill="#787878"/>
<rect x="1490" y="742" width="4" height="1" fill="#787878"/>
<rect x="1490" y="777" width="4" height="1" fill="#787878"/>
<rect x="204" y="799" width="1" height="4" fill="#787878"/>
<rect x="334" y="799" width="1" height="4" fill="#787878"/>
<rect x="418" y="799" width="1" height="4" fill="#787878"/>
<rect x="503" y="799" width="1" height="4" fill="#787878"/>
<rect x="587" y="799" width="1" height="4" fill="#787878"/>
<rect x="672" y="799" width="1" height="4" fill="#787878"/>
<rect x="757" y="799" width="1" height="4" fill="#787878"/>
<rect x="841" y="799" width="1" height="4" fill="#787878"/>
<rect x="926" y="799" width="1" height="4" fill="#787878"/>
<rect x="1010" y="799" width="1" height="4" fill="#787878"/>
<rect x="1095" y="799" width="1" height="4" fill="#787878"/>
<rect x="1183" y="799" width="1" height="4" fill="#787878"/>
<rect x="1264" y="799" width="1" height="4" fill="#787878"/>
<rect x="1352" y="799" width="1" height="4" fill="#787878"/>
<rect x="1436" y="799" width="1" height="4" fill="#787878"/>
</g>
<g font-family="Liberation Sans, Arial, sans-serif" font-weight="bold" font-size="11px" fill="#cfcfd2">
<text x="1498" y="7">42500.0</text>
<text x="1498" y="36">17500.0</text>
<text x="1498" y="64">7500.0</text>
<text x="1498" y="94">3000.0</text>
<text x="1498" y="123">1300.0</text>
<text x="1498" y="155">500.0</text>
<text x="1498" y="189">180.0</text>
<text x="1498" y="220">70.0</text>
<text x="1498" y="249">30.0</text>
<text x="1498" y="279">12.0</text>
<text x="1498" y="308">5.0</text>
<text x="1498" y="339">2.0</text>
<text x="1498" y="369">0.8</text>
<text x="1498" y="402">0.3</text>
<text x="1498" y="439">0.1</text>
<text x="1498" y="574">90.0000</text>
<text x="1498" y="609">80.0000</text>
<text x="1498" y="643">70.0000</text>
<text x="1498" y="678">60.0000</text>
<text x="1498" y="713">50.0000</text>
<text x="1498" y="747">40.0000</text>
<text x="1498" y="782">30.0000</text>
<text x="203.8" y="815.5" text-anchor="middle" textLength="17.2" lengthAdjust="spacingAndGlyphs">Apr</text>
<text x="333.8" y="815.5" text-anchor="middle">2014</text>
<text x="417.8" y="815.5" text-anchor="middle" textLength="14.2" lengthAdjust="spacingAndGlyphs">Jul</text>
<text x="502.8" y="815.5" text-anchor="middle">2015</text>
<text x="586.8" y="815.5" text-anchor="middle" textLength="14.2" lengthAdjust="spacingAndGlyphs">Jul</text>
<text x="671.8" y="815.5" text-anchor="middle">2016</text>
<text x="756.8" y="815.5" text-anchor="middle" textLength="14.2" lengthAdjust="spacingAndGlyphs">Jul</text>
<text x="840.8" y="815.5" text-anchor="middle">2017</text>
<text x="925.8" y="815.5" text-anchor="middle" textLength="14.2" lengthAdjust="spacingAndGlyphs">Jul</text>
<text x="1009.8" y="815.5" text-anchor="middle">2018</text>
<text x="1094.8" y="815.5" text-anchor="middle" textLength="14.2" lengthAdjust="spacingAndGlyphs">Jul</text>
<text x="1182.8" y="815.5" text-anchor="middle">2019</text>
<text x="1263.8" y="815.5" text-anchor="middle" textLength="14.2" lengthAdjust="spacingAndGlyphs">Jul</text>
<text x="1351.8" y="815.5" text-anchor="middle">2020</text>
<text x="1435.8" y="815.5" text-anchor="middle" textLength="14.2" lengthAdjust="spacingAndGlyphs">Jul</text>
</g>
<rect x="1489" y="76" width="50" height="17" fill="#ef5350" shape-rendering="crispEdges"/>
<rect x="1489" y="84" width="4" height="1" fill="#ffffff" shape-rendering="crispEdges"/>
<text x="1498" y="88" font-family="Liberation Sans, Arial, sans-serif" font-weight="bold" font-size="11px" fill="#ffffff">3587.7</text>
<rect x="409" y="234" width="100" height="21" rx="3.5" ry="3.5" fill="#5b80b8" fill-opacity="0.96"/>
<text x="459.0" y="248.8" text-anchor="middle" font-family="DejaVu Sans, Verdana, sans-serif" font-size="12px" fill="#ffffff" textLength="84.8" stroke="#ffffff" stroke-width="0.3" lengthAdjust="spacing">91 bars, 637d</text>
<rect x="752" y="235" width="106" height="21" rx="3.5" ry="3.5" fill="#5b80b8" fill-opacity="0.96"/>
<text x="805.0" y="249.8" text-anchor="middle" font-family="DejaVu Sans, Verdana, sans-serif" font-size="12px" fill="#ffffff" textLength="92.6" stroke="#ffffff" stroke-width="0.3" lengthAdjust="spacing">120 bars, 840d</text>
<rect x="1102" y="157" width="100" height="21" rx="3.5" ry="3.5" fill="#5b80b8" fill-opacity="0.96"/>
<text x="1152.0" y="171.8" text-anchor="middle" font-family="DejaVu Sans, Verdana, sans-serif" font-size="12px" fill="#ffffff" textLength="84.8" stroke="#ffffff" stroke-width="0.3" lengthAdjust="spacing">91 bars, 637d</text>
</svg>
</body></html>
